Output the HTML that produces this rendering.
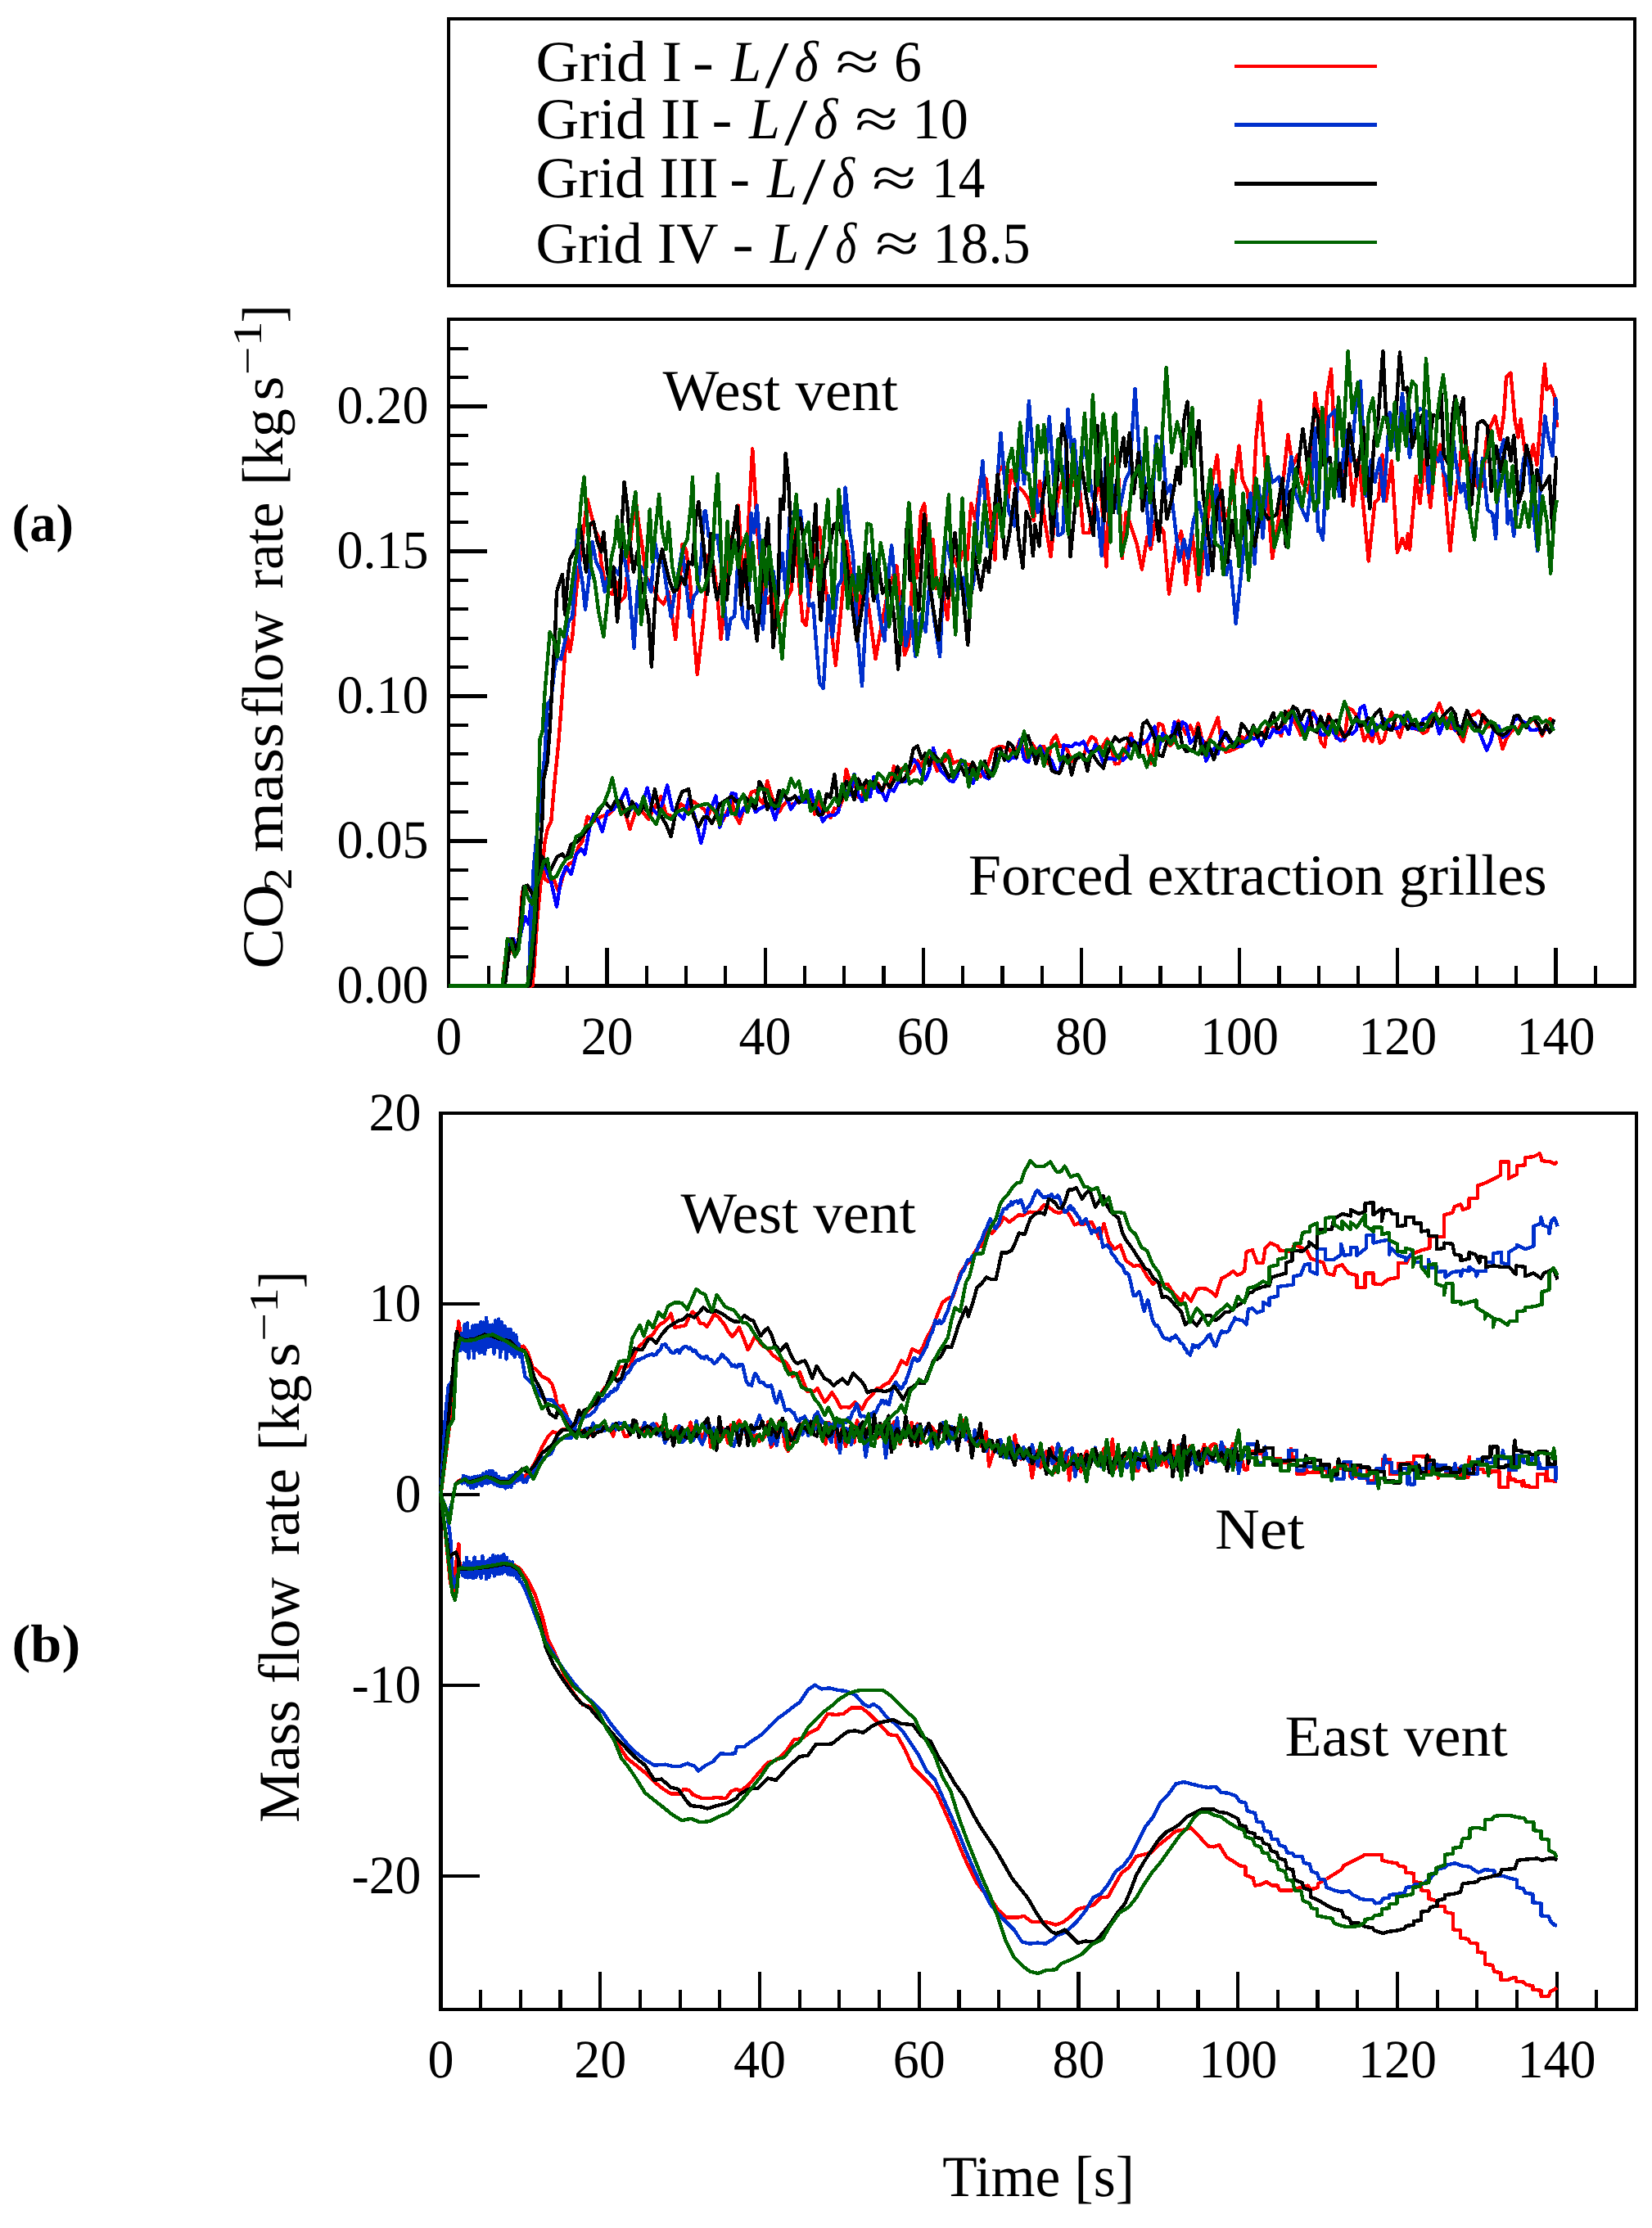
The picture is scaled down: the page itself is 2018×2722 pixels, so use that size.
<!DOCTYPE html>
<html lang="en"><head><meta charset="utf-8"><title>Mass flow rates</title>
<style>html,body{margin:0;padding:0;background:#fff}svg{display:block}</style></head>
<body>
<svg width="2018" height="2722" viewBox="0 0 2018 2722" font-family='"Liberation Serif", serif' fill="#000" shape-rendering="crispEdges" text-rendering="geometricPrecision">
<rect width="2018" height="2722" fill="#fff"/>
<path d="M546,21H1999V351H546Z M550,25V347H1995V25Z" fill="#000" fill-rule="evenodd"/>
<rect x="1508" y="79" width="174" height="4" fill="#ff0000"/>
<rect x="1508" y="150" width="174" height="5" fill="#0030cc"/>
<rect x="1508" y="222" width="174" height="5" fill="#000000"/>
<rect x="1508" y="294" width="174" height="4" fill="#006400"/>
<path d="M546,388H1999V1207H546Z M550,392V1202H1995V392Z" fill="#000" fill-rule="evenodd"/>
<line x1="596.6" y1="1204.4" x2="596.6" y2="1180.4" stroke="#000" stroke-width="4.2"/>
<line x1="644.9" y1="1204.4" x2="644.9" y2="1180.4" stroke="#000" stroke-width="4.2"/>
<line x1="693.2" y1="1204.4" x2="693.2" y2="1180.4" stroke="#000" stroke-width="4.2"/>
<line x1="741.5" y1="1204.4" x2="741.5" y2="1158.4" stroke="#000" stroke-width="4.2"/>
<line x1="789.8" y1="1204.4" x2="789.8" y2="1180.4" stroke="#000" stroke-width="4.2"/>
<line x1="838.0" y1="1204.4" x2="838.0" y2="1180.4" stroke="#000" stroke-width="4.2"/>
<line x1="886.3" y1="1204.4" x2="886.3" y2="1180.4" stroke="#000" stroke-width="4.2"/>
<line x1="934.6" y1="1204.4" x2="934.6" y2="1158.4" stroke="#000" stroke-width="4.2"/>
<line x1="982.9" y1="1204.4" x2="982.9" y2="1180.4" stroke="#000" stroke-width="4.2"/>
<line x1="1031.2" y1="1204.4" x2="1031.2" y2="1180.4" stroke="#000" stroke-width="4.2"/>
<line x1="1079.5" y1="1204.4" x2="1079.5" y2="1180.4" stroke="#000" stroke-width="4.2"/>
<line x1="1127.8" y1="1204.4" x2="1127.8" y2="1158.4" stroke="#000" stroke-width="4.2"/>
<line x1="1176.1" y1="1204.4" x2="1176.1" y2="1180.4" stroke="#000" stroke-width="4.2"/>
<line x1="1224.4" y1="1204.4" x2="1224.4" y2="1180.4" stroke="#000" stroke-width="4.2"/>
<line x1="1272.7" y1="1204.4" x2="1272.7" y2="1180.4" stroke="#000" stroke-width="4.2"/>
<line x1="1320.9" y1="1204.4" x2="1320.9" y2="1158.4" stroke="#000" stroke-width="4.2"/>
<line x1="1369.2" y1="1204.4" x2="1369.2" y2="1180.4" stroke="#000" stroke-width="4.2"/>
<line x1="1417.5" y1="1204.4" x2="1417.5" y2="1180.4" stroke="#000" stroke-width="4.2"/>
<line x1="1465.8" y1="1204.4" x2="1465.8" y2="1180.4" stroke="#000" stroke-width="4.2"/>
<line x1="1514.1" y1="1204.4" x2="1514.1" y2="1158.4" stroke="#000" stroke-width="4.2"/>
<line x1="1562.4" y1="1204.4" x2="1562.4" y2="1180.4" stroke="#000" stroke-width="4.2"/>
<line x1="1610.7" y1="1204.4" x2="1610.7" y2="1180.4" stroke="#000" stroke-width="4.2"/>
<line x1="1659.0" y1="1204.4" x2="1659.0" y2="1180.4" stroke="#000" stroke-width="4.2"/>
<line x1="1707.3" y1="1204.4" x2="1707.3" y2="1158.4" stroke="#000" stroke-width="4.2"/>
<line x1="1755.5" y1="1204.4" x2="1755.5" y2="1180.4" stroke="#000" stroke-width="4.2"/>
<line x1="1803.8" y1="1204.4" x2="1803.8" y2="1180.4" stroke="#000" stroke-width="4.2"/>
<line x1="1852.1" y1="1204.4" x2="1852.1" y2="1180.4" stroke="#000" stroke-width="4.2"/>
<line x1="1900.4" y1="1204.4" x2="1900.4" y2="1158.4" stroke="#000" stroke-width="4.2"/>
<line x1="1948.7" y1="1204.4" x2="1948.7" y2="1180.4" stroke="#000" stroke-width="4.2"/>
<line x1="548.3" y1="1169.0" x2="572.3" y2="1169.0" stroke="#000" stroke-width="4.2"/>
<line x1="548.3" y1="1133.6" x2="572.3" y2="1133.6" stroke="#000" stroke-width="4.2"/>
<line x1="548.3" y1="1098.2" x2="572.3" y2="1098.2" stroke="#000" stroke-width="4.2"/>
<line x1="548.3" y1="1062.8" x2="572.3" y2="1062.8" stroke="#000" stroke-width="4.2"/>
<line x1="548.3" y1="992.0" x2="572.3" y2="992.0" stroke="#000" stroke-width="4.2"/>
<line x1="548.3" y1="956.6" x2="572.3" y2="956.6" stroke="#000" stroke-width="4.2"/>
<line x1="548.3" y1="921.2" x2="572.3" y2="921.2" stroke="#000" stroke-width="4.2"/>
<line x1="548.3" y1="885.8" x2="572.3" y2="885.8" stroke="#000" stroke-width="4.2"/>
<line x1="548.3" y1="815.0" x2="572.3" y2="815.0" stroke="#000" stroke-width="4.2"/>
<line x1="548.3" y1="779.6" x2="572.3" y2="779.6" stroke="#000" stroke-width="4.2"/>
<line x1="548.3" y1="744.2" x2="572.3" y2="744.2" stroke="#000" stroke-width="4.2"/>
<line x1="548.3" y1="708.8" x2="572.3" y2="708.8" stroke="#000" stroke-width="4.2"/>
<line x1="548.3" y1="638.0" x2="572.3" y2="638.0" stroke="#000" stroke-width="4.2"/>
<line x1="548.3" y1="602.6" x2="572.3" y2="602.6" stroke="#000" stroke-width="4.2"/>
<line x1="548.3" y1="567.2" x2="572.3" y2="567.2" stroke="#000" stroke-width="4.2"/>
<line x1="548.3" y1="531.8" x2="572.3" y2="531.8" stroke="#000" stroke-width="4.2"/>
<line x1="548.3" y1="461.0" x2="572.3" y2="461.0" stroke="#000" stroke-width="4.2"/>
<line x1="548.3" y1="425.6" x2="572.3" y2="425.6" stroke="#000" stroke-width="4.2"/>
<line x1="548.3" y1="1027.4" x2="595.3" y2="1027.4" stroke="#000" stroke-width="4.2"/>
<line x1="548.3" y1="850.4" x2="595.3" y2="850.4" stroke="#000" stroke-width="4.2"/>
<line x1="548.3" y1="673.4" x2="595.3" y2="673.4" stroke="#000" stroke-width="4.2"/>
<line x1="548.3" y1="496.4" x2="595.3" y2="496.4" stroke="#000" stroke-width="4.2"/>
<g id="curvesA" fill="none" stroke-linejoin="round" stroke-linecap="butt" stroke-width="4.4">
<polyline points="548.3,1204.4 613.7,1204.3 616.8,1174.7 621.4,1147.3 627.5,1165.6 633.6,1147.3 638.1,1089.3 644.2,1086.2 650.4,1089.3 656.5,1074.0 661.0,1049.6 665.6,1074.0 670.2,1077.1 676.3,1074.0 682.4,1089.3 688.5,1067.9 694.6,1055.7 700.7,1052.7 706.8,1034.4 711.4,1028.3 717.5,997.7 725.1,1003.8 734.3,997.7 743.4,994.7 749.5,988.6 755.6,979.4 763.3,991.6 769.4,1013.0 777.0,988.6 784.6,991.6 792.2,1000.8 798.4,988.6 807.5,973.3 813.6,994.7 822.8,997.7 831.9,982.5 841.1,988.6 847.2,979.4 860.0,988.6 864.8,996.8 869.7,984.9 874.5,995.0 879.3,1007.8 884.1,1000.1 889.0,990.2 893.8,978.7 898.6,997.1 903.5,1005.7 908.3,988.1 913.1,982.1 917.9,967.7 922.8,966.3 927.6,976.4 932.4,982.0 937.3,954.3 942.1,971.0 946.9,983.0 951.7,992.0 956.6,983.7 961.4,979.6 966.2,983.0 971.1,981.8 975.9,977.8 980.7,971.8 985.5,979.1 990.4,971.0 995.2,994.6 1000.0,979.2 1004.9,994.4 1009.7,988.3 1014.5,999.1 1019.4,987.5 1024.2,988.9 1029.0,978.1 1033.8,939.9 1038.7,956.6 1043.5,953.7 1048.3,974.0 1053.2,971.6 1058.0,959.9 1062.8,961.7 1067.6,956.9 1072.5,956.8 1077.3,967.5 1082.1,955.2 1087.0,962.5 1091.8,936.3 1096.6,947.9 1101.4,939.4 1106.3,941.3 1111.1,945.1 1115.9,941.2 1120.8,929.5 1125.6,935.8 1130.4,923.9 1135.2,924.9 1140.1,930.1 1144.9,941.8 1149.7,930.6 1154.6,929.4 1159.4,916.9 1164.2,932.7 1169.0,930.3 1173.9,930.0 1178.7,932.5 1183.5,934.5 1188.4,934.3 1193.2,941.7 1198.0,948.7 1202.9,944.7 1207.7,931.9 1212.5,915.9 1217.3,913.7 1222.2,911.7 1227.0,913.3 1231.8,914.4 1236.7,919.9 1241.5,915.8 1246.3,903.1 1251.1,919.3 1256.0,930.8 1260.8,908.4 1265.6,916.4 1270.5,912.5 1275.3,912.0 1280.1,932.8 1284.9,904.8 1289.8,898.3 1294.6,911.7 1299.4,911.3 1304.3,917.2 1309.1,930.1 1313.9,927.4 1318.7,920.7 1323.6,923.7 1328.4,908.4 1333.2,900.1 1338.1,902.9 1342.9,919.5 1347.7,910.4 1352.6,902.6 1357.4,913.3 1362.2,933.4 1367.0,932.8 1371.9,920.2 1376.7,911.1 1381.5,896.0 1386.4,915.2 1391.2,912.7 1396.0,904.3 1400.8,908.3 1405.7,932.6 1410.5,909.8 1415.3,883.7 1420.2,885.9 1425.0,906.9 1429.8,911.1 1434.6,906.3 1439.5,880.6 1444.3,888.5 1449.1,897.3 1454.0,886.2 1458.8,898.3 1463.6,883.5 1468.4,903.4 1473.3,910.2 1478.1,900.7 1482.9,888.7 1487.8,876.7 1492.6,909.2 1497.4,918.7 1502.3,917.4 1507.1,915.3 1511.9,913.2 1516.7,900.3 1521.6,903.0 1526.4,893.8 1531.2,895.5 1536.1,899.6 1540.9,897.0 1545.7,892.6 1550.5,884.2 1555.4,889.8 1560.2,888.5 1565.0,899.1 1569.9,877.4 1574.7,868.8 1579.5,879.2 1584.3,887.4 1589.2,898.2 1594.0,891.0 1598.8,887.8 1603.7,869.3 1608.5,878.5 1613.3,906.2 1618.1,912.3 1623.0,873.0 1627.8,886.5 1632.6,902.0 1637.5,893.0 1642.3,904.7 1647.1,864.7 1651.9,867.7 1656.8,874.0 1661.6,883.4 1666.4,905.1 1671.3,896.9 1676.1,906.0 1680.9,890.8 1685.8,907.8 1690.6,904.3 1695.4,883.6 1700.2,870.3 1705.1,889.1 1709.9,900.5 1714.7,883.8 1719.6,876.0 1724.4,888.4 1729.2,890.9 1734.0,891.7 1738.9,895.9 1743.7,892.9 1748.5,874.7 1753.4,872.0 1758.2,859.0 1763.0,872.4 1767.8,879.2 1772.7,890.0 1777.5,887.5 1782.3,897.2 1787.2,905.9 1792.0,888.2 1796.8,873.9 1801.6,873.0 1806.5,868.5 1811.3,876.3 1816.1,888.5 1821.0,887.0 1825.8,889.4 1830.6,894.8 1835.5,914.9 1840.3,902.3 1845.1,894.7 1849.9,890.2 1854.8,891.7 1859.6,881.3 1864.4,883.7 1869.3,882.4 1874.1,878.1 1878.9,887.7 1883.7,899.0 1888.6,888.5 1893.4,878.1 1898.2,882.6" stroke="#ff0000"/>
<polyline points="548.3,1204.4 650.4,1204.3 652.5,1180.8 656.5,1119.8 661.0,1074.0 665.6,1028.3 668.7,1013.0 673.2,1003.8 677.8,952.0 682.4,906.2 687.0,845.2 690.0,799.4 693.1,778.0 696.1,796.3 699.2,778.0 703.8,723.1 708.3,686.5 712.9,646.8 717.5,610.2 722.1,628.5 726.6,646.8 731.2,656.0 734.3,686.5 738.8,710.9 743.4,723.1 748.0,726.1 752.6,710.9 757.2,735.3 763.3,729.2 767.8,683.4 772.4,640.7 777.0,613.2 780.0,637.7 784.6,668.2 789.2,704.8 793.8,710.9 798.4,720.0 804.5,732.2 810.6,738.4 816.7,723.1 821.2,753.6 825.2,781.1 828.9,738.4 833.4,665.1 838.0,671.2 842.6,704.8 847.2,771.9 851.8,823.8 856.3,784.1 860.0,753.6 865.7,677.4 872.0,693.1 876.0,724.6 880.7,781.3 886.2,724.6 892.5,661.6 897.2,645.9 901.9,617.6 908.2,716.7 913.0,661.6 919.2,548.3 927.1,677.4 931.8,716.7 937.3,737.2 942.9,724.6 949.2,765.5 957.0,740.3 966.5,721.4 971.2,645.9 975.9,708.9 980.6,759.2 984.6,763.9 991.6,701.0 1001.1,644.3 1007.4,708.9 1013.7,756.1 1020.8,812.7 1027.8,740.3 1034.1,661.6 1040.4,708.9 1048.3,756.1 1054.6,701.0 1060.9,740.3 1069.5,804.9 1078.2,756.1 1086.1,716.7 1095.5,691.5 1100.2,740.3 1105.0,800.1 1110.0,787.5 1116.6,670.9 1119.9,705.7 1124.9,626.0 1129.1,615.2 1133.2,659.2 1139.8,659.2 1144.0,719.0 1149.8,705.7 1157.3,757.2 1163.1,675.8 1169.7,692.4 1176.4,674.2 1181.4,684.1 1186.3,615.2 1191.3,634.3 1198.0,582.9 1204.6,584.5 1209.6,626.0 1215.4,684.1 1219.5,576.2 1226.2,567.9 1231.2,609.4 1235.3,574.6 1241.1,592.8 1249.4,599.5 1256.1,609.4 1262.7,636.0 1270.2,587.8 1276.0,634.3 1283.5,680.0 1289.3,626.0 1294.3,597.8 1302.6,576.2 1310.9,592.8 1317.5,579.5 1323.3,650.9 1330.8,650.9 1337.4,609.4 1344.1,589.5 1351.5,692.4 1356.5,567.9 1360.0,566.3 1364.9,552.8 1370.8,682.3 1375.7,625.9 1381.5,642.5 1389.0,665.7 1394.8,695.6 1401.5,655.8 1405.6,670.7 1411.4,635.8 1421.4,649.1 1428.0,725.5 1436.3,669.0 1443.0,649.1 1448.8,713.9 1456.3,652.4 1464.6,722.2 1472.9,652.4 1481.2,586.0 1487.0,556.1 1492.8,635.8 1499.4,627.5 1506.1,602.6 1513.5,544.5 1517.7,586.0 1523.5,599.3 1529.3,644.1 1534.3,536.2 1539.3,489.7 1544.3,552.8 1554.2,682.3 1564.2,619.2 1573.3,531.2 1579.1,569.4 1584.9,556.1 1590.7,589.4 1599.0,602.6 1606.5,479.8 1610.0,503.0 1613.0,503.8 1616.8,543.5 1621.4,479.4 1626.0,451.1 1630.5,537.4 1638.2,598.5 1647.3,552.7 1652.7,618.3 1659.5,560.3 1664.1,604.6 1671.8,685.5 1679.4,613.7 1684.0,609.2 1688.5,555.7 1693.1,612.2 1700.0,563.4 1706.9,674.8 1713.0,658.0 1717.6,670.2 1719.8,651.9 1722.1,671.8 1729.8,581.7 1734.4,615.3 1740.5,561.8 1747.3,619.8 1752.7,567.9 1758.8,543.5 1760.0,546.6 1763.7,583.1 1771.4,673.2 1779.0,598.4 1783.6,567.9 1786.6,522.1 1792.7,552.6 1798.8,575.5 1804.9,595.3 1811.0,593.8 1815.6,538.9 1820.2,522.1 1826.3,508.3 1832.4,537.3 1837.0,506.8 1840.0,461.0 1845.4,455.7 1850.7,514.5 1854.5,534.3 1857.6,512.2 1862.9,552.6 1869.0,564.8 1872.8,543.4 1877.4,567.9 1881.2,522.1 1884.3,473.2 1887.0,445.0 1889.6,476.3 1894.2,471.7 1898.8,483.9 1901.8,522.1" stroke="#ff0000"/>
<polyline points="548.3,1204.4 613.7,1204.3 618.3,1171.7 622.9,1147.3 627.5,1147.3 632.0,1162.5 636.6,1138.1 641.2,1119.8 645.8,1129.0 650.4,1089.3 658.0,1058.8 665.6,1058.8 673.2,1077.1 680.0,1107.6 685.4,1074.0 691.5,1058.8 697.7,1067.9 703.8,1043.5 709.9,1037.4 714.4,1043.5 720.5,1009.9 725.1,994.7 731.2,1003.8 735.8,1016.0 741.9,991.6 749.5,988.6 757.2,979.4 764.8,964.2 770.9,988.6 777.0,982.5 783.1,988.6 790.7,962.6 796.8,988.6 802.9,994.7 809.0,982.5 815.1,959.6 821.2,988.6 828.9,994.7 835.0,1000.8 841.1,976.4 848.7,997.7 856.3,1029.8 860.0,1016.0 864.8,987.5 869.7,984.7 874.5,972.5 879.3,1010.6 884.1,996.4 889.0,995.6 893.8,968.8 898.6,970.3 903.5,997.3 908.3,987.6 913.1,992.2 917.9,977.9 922.8,992.2 927.6,988.0 932.4,985.8 937.3,983.8 942.1,987.3 946.9,1001.4 951.7,983.6 956.6,970.5 961.4,975.9 966.2,988.4 971.1,981.4 975.9,974.6 980.7,979.4 985.5,979.9 990.4,965.3 995.2,985.0 1000.0,988.1 1004.9,1003.5 1009.7,997.9 1014.5,995.7 1019.4,996.0 1024.2,991.8 1029.0,962.9 1033.8,969.6 1038.7,970.6 1043.5,945.9 1048.3,971.4 1053.2,979.2 1058.0,966.0 1062.8,973.3 1067.6,948.9 1072.5,967.3 1077.3,967.8 1082.1,977.9 1087.0,963.2 1091.8,966.7 1096.6,957.0 1101.4,954.6 1106.3,954.6 1111.1,937.0 1115.9,927.9 1120.8,933.3 1125.6,945.6 1130.4,952.6 1135.2,941.5 1140.1,914.1 1144.9,931.2 1149.7,942.1 1154.6,946.7 1159.4,953.3 1164.2,955.2 1169.0,948.4 1173.9,928.5 1178.7,934.8 1183.5,943.0 1188.4,956.9 1193.2,943.4 1198.0,939.1 1202.9,949.1 1207.7,951.4 1212.5,940.9 1217.3,924.6 1222.2,921.0 1227.0,923.4 1231.8,929.6 1236.7,925.3 1241.5,926.4 1246.3,903.7 1251.1,927.9 1256.0,931.3 1260.8,915.9 1265.6,925.1 1270.5,911.7 1275.3,921.2 1280.1,923.6 1284.9,929.9 1289.8,942.5 1294.6,943.5 1299.4,910.4 1304.3,911.4 1309.1,911.9 1313.9,908.1 1318.7,910.0 1323.6,905.7 1328.4,916.8 1333.2,921.0 1338.1,909.9 1342.9,918.4 1347.7,932.0 1352.6,926.3 1357.4,926.6 1362.2,928.4 1367.0,922.3 1371.9,929.0 1376.7,924.1 1381.5,901.8 1386.4,907.8 1391.2,907.7 1396.0,908.7 1400.8,905.6 1405.7,897.0 1410.5,887.7 1415.3,915.0 1420.2,896.2 1425.0,902.0 1429.8,907.9 1434.6,882.2 1439.5,897.4 1444.3,882.2 1449.1,885.6 1454.0,907.9 1458.8,902.2 1463.6,897.0 1468.4,903.6 1473.3,929.6 1478.1,920.6 1482.9,914.5 1487.8,920.8 1492.6,892.7 1497.4,901.2 1502.3,906.2 1507.1,907.0 1511.9,912.1 1516.7,911.9 1521.6,904.4 1526.4,898.7 1531.2,902.9 1536.1,900.8 1540.9,910.9 1545.7,898.1 1550.5,900.9 1555.4,891.1 1560.2,895.1 1565.0,894.6 1569.9,887.7 1574.7,897.0 1579.5,868.4 1584.3,878.6 1589.2,883.9 1594.0,892.6 1598.8,876.2 1603.7,871.1 1608.5,878.9 1613.3,897.4 1618.1,897.5 1623.0,887.5 1627.8,892.9 1632.6,901.1 1637.5,904.7 1642.3,902.5 1647.1,894.5 1651.9,896.8 1656.8,892.0 1661.6,865.2 1666.4,862.2 1671.3,885.7 1676.1,898.2 1680.9,885.5 1685.8,887.7 1690.6,878.0 1695.4,885.5 1700.2,888.6 1705.1,890.2 1709.9,888.2 1714.7,874.7 1719.6,872.6 1724.4,890.0 1729.2,889.4 1734.0,891.9 1738.9,878.3 1743.7,877.0 1748.5,870.7 1753.4,876.9 1758.2,896.4 1763.0,884.5 1767.8,881.4 1772.7,877.8 1777.5,892.5 1782.3,887.1 1787.2,891.7 1792.0,879.9 1796.8,886.1 1801.6,882.8 1806.5,892.7 1811.3,904.6 1816.1,916.8 1821.0,905.6 1825.8,886.2 1830.6,887.3 1835.5,900.6 1840.3,898.7 1845.1,890.6 1849.9,879.6 1854.8,877.5 1859.6,881.0 1864.4,883.5 1869.3,891.7 1874.1,891.9 1878.9,891.2 1883.7,893.6 1888.6,890.1 1893.4,891.2 1898.2,887.7" stroke="#0000ff"/>
<polyline points="548.3,1204.4 645.8,1204.3 648.8,1119.8 651.9,1058.8 656.5,1013.0 661.0,967.2 665.6,921.4 668.7,860.4 673.2,854.3 677.8,814.6 680.9,802.4 685.4,805.5 690.0,784.1 694.6,759.7 699.2,753.6 702.2,710.9 705.3,646.8 708.3,692.6 711.4,710.9 715.0,744.5 719.0,710.9 723.6,662.1 728.2,686.5 734.3,698.7 738.8,723.1 743.4,701.7 749.5,692.6 755.6,701.7 761.7,674.3 767.8,710.9 771.5,753.6 774.5,791.8 778.5,723.1 783.1,692.6 789.2,704.8 795.3,723.1 799.9,662.1 804.5,686.5 809.0,680.4 815.1,723.1 819.7,753.6 824.3,723.1 828.9,698.7 833.4,671.2 838.0,710.9 842.6,753.6 847.2,729.2 851.8,723.1 856.3,686.5 860.0,625.4 861.8,623.9 865.7,655.3 870.5,658.5 876.0,653.8 881.5,693.1 888.6,781.3 892.5,756.1 897.2,752.9 901.9,677.4 907.4,756.1 913.0,767.1 917.7,627.0 920.8,650.6 924.8,617.6 927.9,661.6 931.8,768.7 938.1,693.1 944.4,697.8 949.2,724.6 955.4,675.8 960.2,724.6 964.9,627.0 977.5,623.9 982.2,661.6 988.5,740.3 993.2,737.2 997.2,787.5 1001.1,834.8 1005.8,841.1 1009.0,787.5 1012.1,727.7 1016.8,778.1 1023.1,716.7 1027.8,708.9 1032.6,595.5 1037.3,645.9 1042.0,677.4 1048.3,787.5 1053.0,837.9 1057.7,756.1 1061.7,677.4 1070.3,716.7 1075.1,756.1 1080.6,782.8 1086.1,693.1 1089.2,666.4 1093.2,708.9 1098.7,756.1 1102.6,727.7 1106.5,789.1 1110.0,771.8 1111.6,742.3 1118.3,802.0 1124.9,750.6 1130.7,772.1 1135.7,709.0 1141.5,758.9 1148.1,802.0 1154.8,659.2 1161.4,684.1 1169.7,722.3 1176.4,705.7 1183.0,742.3 1189.7,709.0 1194.6,626.0 1200.4,562.9 1206.3,667.5 1212.9,659.2 1217.9,592.8 1222.5,528.9 1227.8,592.8 1232.8,626.0 1239.5,642.6 1246.1,548.0 1251.1,591.2 1256.9,489.9 1262.7,566.3 1267.7,626.0 1274.3,606.1 1281.8,509.0 1287.6,592.8 1292.6,654.3 1298.4,650.9 1304.5,499.8 1309.2,553.0 1312.5,537.2 1317.5,609.4 1322.5,546.3 1327.5,559.6 1334.1,604.4 1340.7,626.0 1345.7,679.2 1350.7,559.6 1355.7,642.6 1360.0,592.8 1366.6,627.5 1374.9,586.0 1379.9,576.1 1386.5,474.8 1391.5,552.8 1398.1,586.0 1404.8,665.7 1412.3,532.9 1419.7,536.2 1424.7,602.6 1429.7,592.7 1434.7,635.8 1440.5,685.6 1446.3,659.1 1451.3,682.3 1457.9,635.8 1464.6,614.3 1469.5,635.8 1475.4,702.3 1481.2,635.8 1486.1,592.7 1491.1,652.4 1497.8,702.3 1502.7,685.6 1509.7,762.0 1516.0,702.3 1522.7,635.8 1527.7,602.6 1532.6,689.0 1537.6,594.3 1542.6,657.4 1549.2,566.1 1554.2,589.4 1562.5,582.7 1569.2,619.2 1577.5,557.8 1582.4,602.6 1589.1,619.2 1596.6,635.8 1602.4,586.0 1606.5,522.9 1610.0,649.1 1610.7,644.3 1616.0,659.5 1622.9,509.9 1631.3,500.8 1635.9,606.1 1644.3,526.7 1650.4,563.4 1656.5,491.6 1661.8,465.6 1665.6,537.4 1668.7,606.1 1674.8,561.8 1679.4,589.3 1685.5,560.3 1690.1,612.2 1697.7,503.8 1706.9,552.7 1713.0,480.9 1722.1,558.8 1728.2,506.9 1734.4,499.2 1742.0,502.3 1745.0,601.5 1750.4,552.7 1757.3,563.4 1760.0,552.7 1763.0,575.5 1766.8,583.1 1771.4,610.6 1775.2,537.3 1779.0,567.9 1784.3,601.4 1788.2,590.8 1792.7,621.3 1797.3,572.4 1801.1,552.6 1806.5,598.4 1811.0,560.2 1817.1,622.8 1823.2,627.4 1827.1,657.9 1832.4,552.6 1837.0,537.3 1841.6,639.6 1845.4,624.3 1849.2,654.8 1855.3,606.0 1861.4,560.2 1866.0,552.6 1872.1,616.7 1878.2,673.2 1882.8,567.9 1887.3,508.3 1891.9,537.3 1896.5,557.2 1900.3,487.0 1901.8,512.9" stroke="#0030cc"/>
<polyline points="548.3,1204.4 616.8,1204.3 621.4,1165.6 625.9,1147.3 630.5,1165.6 635.1,1138.1 639.7,1083.2 644.2,1081.7 648.8,1089.3 653.4,1098.4 658.0,1071.0 662.6,1046.6 667.1,1055.7 671.7,1064.9 676.3,1055.7 680.9,1046.6 687.0,1043.5 691.5,1049.6 697.7,1031.3 705.3,1028.3 712.9,1019.1 722.1,1006.9 731.2,991.6 738.8,979.4 746.5,988.6 751.1,979.4 758.7,979.4 766.3,997.7 772.4,979.4 780.0,994.7 786.1,985.5 793.8,994.7 799.9,964.2 806.0,994.7 813.6,1006.9 819.7,1022.1 827.3,982.5 833.4,967.2 841.1,964.2 847.2,997.7 853.3,1009.9 860.0,997.7 864.8,998.8 869.7,1005.9 874.5,995.8 879.3,982.6 884.1,979.3 889.0,975.8 893.8,972.9 898.6,978.9 903.5,977.8 908.3,971.6 913.1,977.0 917.9,982.8 922.8,988.0 927.6,954.8 932.4,963.3 937.3,989.0 942.1,976.4 946.9,987.8 951.7,966.0 956.6,967.9 961.4,976.5 966.2,976.4 971.1,972.5 975.9,980.8 980.7,977.4 985.5,972.4 990.4,983.5 995.2,983.6 1000.0,995.8 1004.9,994.7 1009.7,969.8 1014.5,974.5 1019.4,946.1 1024.2,984.3 1029.0,973.4 1033.8,954.7 1038.7,960.9 1043.5,976.9 1048.3,951.6 1053.2,962.3 1058.0,953.6 1062.8,959.2 1067.6,955.0 1072.5,958.8 1077.3,965.7 1082.1,954.6 1087.0,962.2 1091.8,954.2 1096.6,936.5 1101.4,955.0 1106.3,949.5 1111.1,936.8 1115.9,914.5 1120.8,911.6 1125.6,926.6 1130.4,920.5 1135.2,935.2 1140.1,921.1 1144.9,927.0 1149.7,931.0 1154.6,940.1 1159.4,949.6 1164.2,941.9 1169.0,942.6 1173.9,936.9 1178.7,947.0 1183.5,942.7 1188.4,931.4 1193.2,941.8 1198.0,939.1 1202.9,929.8 1207.7,949.6 1212.5,945.2 1217.3,915.7 1222.2,914.6 1227.0,928.4 1231.8,907.1 1236.7,911.0 1241.5,925.5 1246.3,911.2 1251.1,900.2 1256.0,899.1 1260.8,914.2 1265.6,933.1 1270.5,916.9 1275.3,927.1 1280.1,923.0 1284.9,941.3 1289.8,944.2 1294.6,944.4 1299.4,930.8 1304.3,922.5 1309.1,946.7 1313.9,928.0 1318.7,924.9 1323.6,922.3 1328.4,941.7 1333.2,917.9 1338.1,926.7 1342.9,933.6 1347.7,938.6 1352.6,921.0 1357.4,909.5 1362.2,900.5 1367.0,905.9 1371.9,902.8 1376.7,901.6 1381.5,910.7 1386.4,906.6 1391.2,922.1 1396.0,884.7 1400.8,880.6 1405.7,889.4 1410.5,902.1 1415.3,922.4 1420.2,923.8 1425.0,907.4 1429.8,899.3 1434.6,897.6 1439.5,884.2 1444.3,910.5 1449.1,918.2 1454.0,916.1 1458.8,915.2 1463.6,889.1 1468.4,920.8 1473.3,907.9 1478.1,914.4 1482.9,927.9 1487.8,911.5 1492.6,904.0 1497.4,895.1 1502.3,902.8 1507.1,913.2 1511.9,908.1 1516.7,884.4 1521.6,889.9 1526.4,898.4 1531.2,886.6 1536.1,900.5 1540.9,894.9 1545.7,902.3 1550.5,882.1 1555.4,871.1 1560.2,890.3 1565.0,887.2 1569.9,869.2 1574.7,877.1 1579.5,863.4 1584.3,866.1 1589.2,879.4 1594.0,868.7 1598.8,867.7 1603.7,892.0 1608.5,894.5 1613.3,875.3 1618.1,889.8 1623.0,875.2 1627.8,882.9 1632.6,880.2 1637.5,891.0 1642.3,900.4 1647.1,896.9 1651.9,885.6 1656.8,876.0 1661.6,886.8 1666.4,885.5 1671.3,877.3 1676.1,878.7 1680.9,871.2 1685.8,866.7 1690.6,886.4 1695.4,890.9 1700.2,892.2 1705.1,874.8 1709.9,875.0 1714.7,879.3 1719.6,890.6 1724.4,882.7 1729.2,887.0 1734.0,884.7 1738.9,884.5 1743.7,887.8 1748.5,886.9 1753.4,874.5 1758.2,881.4 1763.0,874.5 1767.8,869.3 1772.7,864.8 1777.5,872.1 1782.3,896.6 1787.2,884.8 1792.0,868.1 1796.8,878.7 1801.6,885.5 1806.5,893.0 1811.3,873.5 1816.1,879.6 1821.0,884.7 1825.8,892.4 1830.6,896.5 1835.5,898.4 1840.3,895.4 1845.1,890.3 1849.9,875.1 1854.8,873.9 1859.6,882.7 1864.4,889.1 1869.3,878.2 1874.1,878.7 1878.9,884.4 1883.7,896.5 1888.6,886.1 1893.4,894.5 1898.2,878.7" stroke="#000000"/>
<polyline points="548.3,1204.4 647.3,1204.3 650.4,1180.8 654.9,1119.8 659.5,1043.5 662.6,997.7 664.1,952.0 668.7,930.6 671.7,890.9 674.8,829.9 677.8,784.1 680.0,723.1 683.9,710.9 687.0,701.7 690.0,750.6 693.1,710.9 696.1,683.4 700.7,674.3 705.3,668.2 708.3,640.7 711.4,662.1 716.0,698.7 720.5,640.7 725.1,637.7 729.7,662.1 734.3,674.3 737.3,649.9 741.9,698.7 746.5,717.0 749.5,692.6 754.1,759.7 757.2,723.1 760.2,631.5 762.6,588.8 766.3,619.3 769.4,662.1 773.9,698.7 778.5,674.3 783.1,710.9 787.7,729.2 792.2,753.6 795.9,814.6 799.9,738.4 804.5,692.6 809.0,671.2 813.6,692.6 818.2,710.9 822.8,723.1 827.3,720.0 831.9,704.8 836.5,713.9 841.1,686.5 845.7,689.5 850.2,631.5 853.3,613.2 856.3,640.7 860.0,671.2 864.2,726.2 868.1,652.2 872.0,708.9 876.0,732.5 881.5,708.9 887.8,732.5 894.1,661.6 900.4,618.4 905.1,738.8 909.8,683.7 914.5,743.5 919.2,740.3 924.8,782.8 931.8,693.1 938.1,633.3 944.4,790.7 950.7,724.6 953.1,609.7 957.0,622.3 959.7,553.8 963.3,589.2 966.5,661.6 968.0,710.4 972.0,655.3 977.5,633.3 983.8,674.2 990.1,708.9 996.4,616.0 999.5,708.9 1002.7,757.6 1007.4,693.1 1012.1,677.4 1018.4,641.2 1023.1,638.0 1031.0,661.6 1038.9,724.6 1046.7,782.8 1054.6,732.5 1060.9,677.4 1067.2,734.0 1071.9,683.7 1078.2,724.6 1086.1,708.9 1092.4,756.1 1097.1,817.5 1101.8,756.1 1108.1,638.0 1110.0,636.5 1111.6,709.0 1116.6,707.4 1122.4,745.6 1129.1,628.5 1134.9,709.0 1139.8,742.3 1146.5,782.1 1153.1,702.4 1158.1,730.6 1166.4,650.9 1171.4,692.4 1176.4,725.6 1182.2,787.9 1189.7,675.8 1198.0,720.7 1203.8,682.5 1207.9,699.1 1214.6,626.0 1218.7,579.5 1222.9,626.0 1227.8,682.5 1232.8,654.3 1240.3,597.0 1244.4,659.2 1249.4,694.1 1253.6,625.2 1257.7,634.3 1261.9,679.2 1264.4,641.0 1269.4,667.5 1274.3,602.8 1280.1,576.2 1285.1,659.2 1290.9,592.8 1297.6,518.1 1302.6,543.0 1307.5,680.0 1314.2,609.4 1320.8,566.3 1327.5,609.4 1335.8,654.3 1340.7,519.8 1345.7,596.1 1349.0,636.0 1351.5,559.6 1360.0,626.0 1366.6,569.4 1372.4,534.6 1374.9,569.4 1379.9,528.7 1384.9,602.6 1390.7,552.8 1395.7,624.2 1399.8,594.3 1406.5,586.0 1415.6,660.7 1421.4,589.4 1425.5,634.2 1433.0,602.6 1438.0,571.1 1441.3,591.0 1446.3,513.0 1450.4,490.6 1456.3,569.4 1464.6,513.8 1469.5,602.6 1477.8,669.0 1481.2,697.3 1487.0,612.6 1492.8,599.3 1499.4,687.3 1505.2,635.8 1511.0,669.0 1517.7,652.4 1524.3,624.2 1532.6,667.4 1540.9,619.2 1549.2,634.2 1559.2,629.2 1566.7,584.4 1570.8,667.4 1575.8,601.0 1582.4,594.3 1591.6,523.8 1597.4,569.4 1605.7,499.7 1610.0,511.3 1610.7,529.8 1616.8,567.9 1624.4,558.8 1630.5,598.5 1636.6,566.4 1641.2,612.2 1648.1,517.6 1657.3,581.7 1665.6,522.1 1673.3,621.4 1678.6,537.4 1683.2,516.0 1689.3,429.0 1693.1,506.9 1697.7,537.4 1705.3,506.9 1709.9,430.5 1714.5,476.3 1719.1,473.3 1725.2,546.6 1731.3,522.1 1737.4,506.9 1743.5,567.9 1750.4,506.9 1757.3,509.9 1760.0,473.3 1763.7,555.7 1769.8,567.9 1774.4,506.8 1777.5,483.9 1782.8,506.8 1787.4,486.2 1791.2,552.6 1797.3,616.7 1800.4,583.1 1804.9,517.5 1811.0,513.7 1817.1,520.6 1821.7,599.9 1827.8,545.0 1833.2,575.5 1837.7,552.6 1841.6,535.1 1845.4,563.3 1849.2,532.0 1855.3,613.6 1859.9,598.4 1864.5,544.2 1870.6,567.9 1874.4,613.6 1877.4,574.0 1882.8,598.4 1888.1,590.8 1892.7,581.6 1896.5,647.2 1901.1,558.7 1901.8,558.7" stroke="#000000"/>
<polyline points="548.3,1204.4 613.7,1204.3 616.8,1177.8 619.8,1147.3 624.4,1150.3 629.0,1168.6 633.6,1159.5 638.1,1119.8 641.2,1083.2 645.8,1098.4 650.4,1104.5 654.9,1083.2 659.5,1071.0 664.1,1052.7 668.7,1049.6 673.2,1074.0 679.3,1071.0 685.4,1058.8 691.5,1049.6 697.7,1046.6 703.8,1022.1 709.9,1019.1 716.0,1009.9 722.1,1006.9 731.2,988.6 737.3,982.5 743.4,967.2 748.0,950.4 752.6,973.3 758.7,994.7 766.3,988.6 773.9,985.5 780.0,994.7 786.1,973.3 792.2,994.7 801.4,1006.9 807.5,988.6 813.6,997.7 819.7,1000.8 827.3,991.6 835.0,988.6 841.1,994.7 850.2,985.5 860.0,982.5 864.8,982.2 869.7,987.5 874.5,991.5 879.3,1007.7 884.1,980.7 889.0,978.1 893.8,993.8 898.6,994.7 903.5,978.1 908.3,970.6 913.1,992.0 917.9,975.2 922.8,981.1 927.6,963.3 932.4,964.4 937.3,964.9 942.1,982.6 946.9,984.9 951.7,984.5 956.6,965.4 961.4,968.7 966.2,951.1 971.1,961.4 975.9,954.5 980.7,978.3 985.5,966.0 990.4,990.7 995.2,987.0 1000.0,967.4 1004.9,984.6 1009.7,990.0 1014.5,983.4 1019.4,975.0 1024.2,982.3 1029.0,958.0 1033.8,976.9 1038.7,956.1 1043.5,946.6 1048.3,964.0 1053.2,962.1 1058.0,977.0 1062.8,954.4 1067.6,962.6 1072.5,944.6 1077.3,948.5 1082.1,955.2 1087.0,945.0 1091.8,945.9 1096.6,953.1 1101.4,942.6 1106.3,934.1 1111.1,957.7 1115.9,953.3 1120.8,953.5 1125.6,957.4 1130.4,928.0 1135.2,917.2 1140.1,925.0 1144.9,930.5 1149.7,929.5 1154.6,921.3 1159.4,926.6 1164.2,950.1 1169.0,940.0 1173.9,929.1 1178.7,930.2 1183.5,961.4 1188.4,939.8 1193.2,952.0 1198.0,930.3 1202.9,935.7 1207.7,941.7 1212.5,947.9 1217.3,937.9 1222.2,919.5 1227.0,923.0 1231.8,927.1 1236.7,919.5 1241.5,921.3 1246.3,911.7 1251.1,893.6 1256.0,925.0 1260.8,913.1 1265.6,920.8 1270.5,914.3 1275.3,936.3 1280.1,914.8 1284.9,912.8 1289.8,908.5 1294.6,928.8 1299.4,924.5 1304.3,932.3 1309.1,926.0 1313.9,923.1 1318.7,920.2 1323.6,927.7 1328.4,928.8 1333.2,920.3 1338.1,917.6 1342.9,912.4 1347.7,923.4 1352.6,906.2 1357.4,908.9 1362.2,920.9 1367.0,926.3 1371.9,914.7 1376.7,920.2 1381.5,926.9 1386.4,910.5 1391.2,924.8 1396.0,922.8 1400.8,937.4 1405.7,922.7 1410.5,935.1 1415.3,900.0 1420.2,905.0 1425.0,899.1 1429.8,909.2 1434.6,900.5 1439.5,914.1 1444.3,911.3 1449.1,911.5 1454.0,916.6 1458.8,918.6 1463.6,921.6 1468.4,912.3 1473.3,922.9 1478.1,903.7 1482.9,907.7 1487.8,913.7 1492.6,915.1 1497.4,916.2 1502.3,911.5 1507.1,912.4 1511.9,901.9 1516.7,905.9 1521.6,906.8 1526.4,904.4 1531.2,888.4 1536.1,894.7 1540.9,885.6 1545.7,881.0 1550.5,887.2 1555.4,881.7 1560.2,879.1 1565.0,871.0 1569.9,882.3 1574.7,871.5 1579.5,868.9 1584.3,880.1 1589.2,889.4 1594.0,903.3 1598.8,888.9 1603.7,892.2 1608.5,891.9 1613.3,884.4 1618.1,891.7 1623.0,897.9 1627.8,881.0 1632.6,896.0 1637.5,875.1 1642.3,856.9 1647.1,870.0 1651.9,884.3 1656.8,879.2 1661.6,881.9 1666.4,882.5 1671.3,894.2 1676.1,877.1 1680.9,892.5 1685.8,886.3 1690.6,890.9 1695.4,879.7 1700.2,879.2 1705.1,873.9 1709.9,875.2 1714.7,884.3 1719.6,869.8 1724.4,881.0 1729.2,878.8 1734.0,891.8 1738.9,891.6 1743.7,883.4 1748.5,874.5 1753.4,871.6 1758.2,884.2 1763.0,877.3 1767.8,889.9 1772.7,871.6 1777.5,889.2 1782.3,891.0 1787.2,899.4 1792.0,879.8 1796.8,887.5 1801.6,893.0 1806.5,892.3 1811.3,895.6 1816.1,886.2 1821.0,881.6 1825.8,883.8 1830.6,892.9 1835.5,892.5 1840.3,889.7 1845.1,888.4 1849.9,887.7 1854.8,896.3 1859.6,886.4 1864.4,886.9 1869.3,880.7 1874.1,876.5 1878.9,876.5 1883.7,882.9 1888.6,880.4 1893.4,883.6 1898.2,893.0" stroke="#006400"/>
<polyline points="548.3,1204.4 644.2,1204.3 647.3,1180.8 651.9,1135.1 654.9,1089.3 656.5,997.7 658.0,967.2 659.5,903.1 662.6,894.0 665.6,845.2 668.7,808.5 671.7,771.9 676.3,781.1 680.9,802.4 683.9,768.9 688.5,778.0 691.5,759.7 696.1,735.3 700.7,698.7 705.3,671.2 709.9,610.2 713.5,582.7 717.5,640.7 722.1,692.6 726.6,710.9 731.2,747.5 737.3,778.0 741.9,735.3 746.5,683.4 751.1,662.1 754.1,631.5 757.2,668.2 760.2,640.7 764.8,680.4 769.4,656.0 773.9,616.3 776.4,601.0 780.0,668.2 783.1,762.8 787.7,723.1 790.7,668.2 793.8,622.4 796.8,686.5 801.4,640.7 805.1,604.1 809.0,649.9 813.6,671.2 816.7,637.7 821.2,692.6 825.8,717.0 830.4,692.6 835.0,668.2 839.5,659.0 844.1,616.3 846.0,582.7 848.7,662.1 851.8,710.9 856.3,723.1 860.0,720.0 865.7,702.6 870.5,677.4 873.6,614.4 876.8,579.0 879.9,645.9 883.1,752.9 888.6,637.2 891.7,701.0 897.2,660.1 901.9,693.1 905.1,672.7 912.2,652.2 916.1,708.9 919.2,663.2 925.5,748.2 931.8,660.1 935.8,716.7 939.7,667.9 944.4,708.9 949.2,738.8 955.4,804.9 960.2,740.3 966.5,661.6 972.8,604.2 978.3,724.6 982.2,653.8 987.7,638.0 991.6,693.1 997.2,682.1 1001.1,719.9 1007.4,645.9 1011.3,610.5 1017.6,743.5 1024.7,597.9 1029.4,653.8 1035.7,743.5 1041.2,702.6 1046.7,734.0 1049.1,693.1 1053.0,724.6 1059.3,639.6 1064.0,641.2 1070.3,724.6 1075.8,663.2 1081.4,693.1 1086.1,765.5 1093.2,702.6 1100.2,786.0 1105.0,708.9 1110.0,614.4 1110.8,615.2 1116.6,709.0 1119.9,800.4 1126.6,758.9 1129.9,709.0 1134.9,640.1 1139.8,719.0 1144.0,705.7 1148.1,729.0 1153.1,674.2 1158.9,604.4 1163.1,709.0 1167.2,775.5 1171.4,692.4 1175.5,608.6 1179.7,692.4 1184.7,753.9 1190.5,639.3 1196.3,687.5 1202.9,612.7 1209.6,669.2 1216.2,619.4 1219.5,616.1 1224.5,655.9 1231.2,566.3 1236.1,548.0 1241.1,587.8 1246.1,516.5 1251.1,576.2 1256.9,579.5 1261.9,631.0 1267.7,519.8 1271.8,553.0 1275.2,518.9 1280.1,587.8 1286.0,627.7 1292.6,536.4 1299.2,592.8 1305.0,652.6 1310.9,543.0 1315.8,617.7 1325.0,504.8 1330.0,599.5 1334.9,482.4 1340.7,592.8 1347.4,505.7 1352.4,543.0 1356.5,662.6 1360.0,509.8 1362.5,505.5 1369.9,679.0 1376.6,652.4 1383.2,586.0 1391.5,569.4 1394.8,607.6 1399.8,522.9 1404.8,614.3 1413.1,542.9 1416.4,586.0 1424.7,449.1 1431.4,552.8 1438.0,515.5 1443.0,536.2 1448.0,569.4 1456.3,498.0 1464.6,702.3 1471.2,635.8 1478.7,573.6 1484.5,664.1 1491.1,669.0 1494.4,702.3 1499.4,652.4 1505.2,574.4 1513.5,692.3 1518.5,602.6 1525.2,708.9 1534.3,584.4 1540.9,634.2 1548.4,557.8 1556.7,669.0 1565.8,635.8 1573.3,669.0 1582.4,572.7 1590.7,619.2 1599.0,561.1 1605.7,624.2 1610.0,610.9 1610.7,613.7 1615.3,497.7 1621.4,621.4 1626.0,567.9 1629.8,607.6 1635.1,485.5 1640.5,545.0 1646.6,429.0 1651.9,503.8 1658.8,467.2 1664.1,552.7 1667.2,603.1 1671.8,506.9 1677.1,486.3 1682.4,545.0 1690.1,509.9 1694.7,511.5 1699.2,549.6 1703.8,491.6 1707.6,561.8 1712.2,505.3 1717.6,545.0 1720.6,491.6 1724.9,465.6 1729.8,471.8 1735.1,589.3 1742.0,438.2 1746.6,506.9 1750.4,590.8 1755.7,506.9 1760.0,476.3 1763.0,458.0 1766.8,491.6 1771.4,604.5 1775.9,522.1 1779.0,488.5 1782.8,522.1 1786.6,560.2 1790.4,545.0 1795.8,628.9 1801.1,659.4 1805.7,613.6 1811.0,564.8 1815.6,558.7 1822.5,526.7 1827.8,613.6 1833.2,590.8 1839.3,563.3 1843.1,606.0 1847.7,569.4 1852.2,644.2 1856.8,644.2 1862.2,613.6 1867.5,644.2 1873.6,581.6 1878.9,671.6 1884.3,606.0 1889.6,636.5 1894.2,700.6 1898.8,628.9 1901.8,610.6" stroke="#006400"/>
</g>
<path d="M536,1358H2001V2457H536Z M541,1362V2453H1997V1362Z" fill="#000" fill-rule="evenodd"/>
<line x1="587.2" y1="2455.0" x2="587.2" y2="2431.0" stroke="#000" stroke-width="4.2"/>
<line x1="635.9" y1="2455.0" x2="635.9" y2="2431.0" stroke="#000" stroke-width="4.2"/>
<line x1="684.5" y1="2455.0" x2="684.5" y2="2431.0" stroke="#000" stroke-width="4.2"/>
<line x1="733.2" y1="2455.0" x2="733.2" y2="2409.0" stroke="#000" stroke-width="4.2"/>
<line x1="781.9" y1="2455.0" x2="781.9" y2="2431.0" stroke="#000" stroke-width="4.2"/>
<line x1="830.6" y1="2455.0" x2="830.6" y2="2431.0" stroke="#000" stroke-width="4.2"/>
<line x1="879.3" y1="2455.0" x2="879.3" y2="2431.0" stroke="#000" stroke-width="4.2"/>
<line x1="928.0" y1="2455.0" x2="928.0" y2="2409.0" stroke="#000" stroke-width="4.2"/>
<line x1="976.6" y1="2455.0" x2="976.6" y2="2431.0" stroke="#000" stroke-width="4.2"/>
<line x1="1025.3" y1="2455.0" x2="1025.3" y2="2431.0" stroke="#000" stroke-width="4.2"/>
<line x1="1074.0" y1="2455.0" x2="1074.0" y2="2431.0" stroke="#000" stroke-width="4.2"/>
<line x1="1122.7" y1="2455.0" x2="1122.7" y2="2409.0" stroke="#000" stroke-width="4.2"/>
<line x1="1171.4" y1="2455.0" x2="1171.4" y2="2431.0" stroke="#000" stroke-width="4.2"/>
<line x1="1220.1" y1="2455.0" x2="1220.1" y2="2431.0" stroke="#000" stroke-width="4.2"/>
<line x1="1268.8" y1="2455.0" x2="1268.8" y2="2431.0" stroke="#000" stroke-width="4.2"/>
<line x1="1317.4" y1="2455.0" x2="1317.4" y2="2409.0" stroke="#000" stroke-width="4.2"/>
<line x1="1366.1" y1="2455.0" x2="1366.1" y2="2431.0" stroke="#000" stroke-width="4.2"/>
<line x1="1414.8" y1="2455.0" x2="1414.8" y2="2431.0" stroke="#000" stroke-width="4.2"/>
<line x1="1463.5" y1="2455.0" x2="1463.5" y2="2431.0" stroke="#000" stroke-width="4.2"/>
<line x1="1512.2" y1="2455.0" x2="1512.2" y2="2409.0" stroke="#000" stroke-width="4.2"/>
<line x1="1560.8" y1="2455.0" x2="1560.8" y2="2431.0" stroke="#000" stroke-width="4.2"/>
<line x1="1609.5" y1="2455.0" x2="1609.5" y2="2431.0" stroke="#000" stroke-width="4.2"/>
<line x1="1658.2" y1="2455.0" x2="1658.2" y2="2431.0" stroke="#000" stroke-width="4.2"/>
<line x1="1706.9" y1="2455.0" x2="1706.9" y2="2409.0" stroke="#000" stroke-width="4.2"/>
<line x1="1755.6" y1="2455.0" x2="1755.6" y2="2431.0" stroke="#000" stroke-width="4.2"/>
<line x1="1804.3" y1="2455.0" x2="1804.3" y2="2431.0" stroke="#000" stroke-width="4.2"/>
<line x1="1853.0" y1="2455.0" x2="1853.0" y2="2431.0" stroke="#000" stroke-width="4.2"/>
<line x1="1901.6" y1="2455.0" x2="1901.6" y2="2409.0" stroke="#000" stroke-width="4.2"/>
<line x1="1950.3" y1="2455.0" x2="1950.3" y2="2431.0" stroke="#000" stroke-width="4.2"/>
<line x1="538.5" y1="2291.9" x2="585.5" y2="2291.9" stroke="#000" stroke-width="4.2"/>
<line x1="538.5" y1="2058.9" x2="585.5" y2="2058.9" stroke="#000" stroke-width="4.2"/>
<line x1="538.5" y1="1825.8" x2="585.5" y2="1825.8" stroke="#000" stroke-width="4.2"/>
<line x1="538.5" y1="1592.8" x2="585.5" y2="1592.8" stroke="#000" stroke-width="4.2"/>
<g id="curvesB" fill="none" stroke-linejoin="round" stroke-linecap="butt" stroke-width="4.4">
<polyline points="538.5,1826.1 548.9,1743.7 554.5,1690.9 558.3,1638.1 560.2,1614.5 562.4,1628.6 567.7,1637.1 579.0,1636.2 592.2,1630.5 601.7,1631.5 611.1,1635.2 620.5,1639.0 631.8,1645.6 639.4,1644.7 645.0,1653.1 650.7,1670.1 656.3,1674.8 662.0,1681.4 669.5,1685.2 674.3,1690.9 678.0,1702.2 680.9,1719.1 687.5,1717.3 692.2,1728.6 697.8,1745.5 703.5,1751.2 706.9,1752.0 710.4,1747.9 714.0,1750.7 717.5,1750.6 721.0,1752.9 724.5,1749.0 728.0,1742.3 731.5,1744.9 735.0,1741.8 738.5,1745.5 742.0,1744.8 745.5,1745.8 749.0,1754.4 752.5,1742.6 756.0,1744.3 759.5,1744.3 763.0,1754.5 766.5,1754.7 770.0,1750.8 773.5,1748.8 777.0,1745.2 780.6,1746.8 784.1,1744.3 787.6,1749.9 791.1,1745.6 794.6,1745.4 798.1,1750.5 801.6,1739.6 805.1,1745.1 808.6,1742.3 812.1,1753.8 815.6,1755.1 819.1,1751.6 822.6,1749.6 826.1,1742.8 829.6,1746.6 833.1,1753.1 836.6,1757.9 840.1,1753.8 843.6,1737.6 847.2,1756.5 850.7,1746.7 854.2,1745.0 857.7,1762.8 861.2,1748.5 864.7,1736.8 868.2,1767.7 871.7,1751.9 875.2,1749.9 878.7,1756.6 882.2,1744.3 885.7,1749.5 889.2,1762.6 892.7,1741.2 896.2,1742.7 899.7,1740.1 903.2,1735.5 906.7,1745.6 910.2,1747.8 913.8,1761.1 917.3,1743.2 920.8,1754.6 924.3,1753.2 927.8,1760.7 931.3,1758.0 934.8,1754.0 938.3,1737.1 941.8,1768.0 945.3,1762.7 948.8,1747.0 952.3,1735.8 955.8,1743.9 959.3,1767.0 962.8,1772.8 966.3,1746.1 969.8,1756.3 973.3,1759.9 976.8,1740.4 980.3,1739.3 983.9,1748.1 987.4,1747.4 990.9,1745.6 994.4,1734.9 997.9,1744.0 1001.4,1745.0 1004.9,1744.8 1008.4,1764.5 1011.9,1738.0 1015.4,1741.1 1018.9,1745.1 1022.4,1768.5 1025.9,1756.0 1029.4,1742.3 1032.9,1767.1 1036.4,1752.0 1039.9,1740.8 1043.4,1762.5 1046.9,1735.4 1050.5,1745.3 1054.0,1751.9 1057.5,1747.5 1061.0,1744.5 1064.5,1749.5 1068.0,1739.9 1071.5,1756.8 1075.0,1754.6 1078.5,1741.0 1082.0,1750.5 1085.5,1759.0 1089.0,1742.1 1092.5,1737.3 1096.0,1755.1 1099.5,1763.9 1103.0,1752.3 1106.5,1752.5 1110.0,1753.9 1113.5,1738.1 1117.1,1760.8 1120.6,1739.5 1124.1,1763.1 1127.6,1758.6 1131.1,1745.4 1134.6,1740.8 1138.1,1743.3 1141.6,1748.1 1145.1,1749.9 1148.6,1749.9 1152.1,1745.9 1155.6,1752.9 1159.1,1748.7 1162.6,1745.9 1166.1,1751.3 1169.6,1744.2 1173.1,1746.8 1176.6,1735.1 1180.1,1752.4 1183.7,1761.1 1187.2,1762.3 1190.7,1760.6 1194.2,1753.3 1197.7,1766.5 1201.2,1761.1 1204.7,1749.0 1208.2,1791.4 1211.7,1779.4 1215.2,1768.0 1218.7,1768.0 1222.2,1770.4 1225.7,1777.3 1229.2,1767.9 1232.7,1772.0 1236.2,1780.2 1239.7,1753.4 1243.2,1773.4 1246.7,1782.5 1250.3,1779.0 1253.8,1780.8 1257.3,1780.0 1260.8,1805.5 1264.3,1785.2 1267.8,1772.0 1271.3,1792.6 1274.8,1782.5 1278.3,1773.1 1281.8,1774.2 1285.3,1768.5 1288.8,1798.4 1292.3,1786.0 1295.8,1786.0 1299.3,1777.2 1302.8,1773.0 1306.3,1808.4 1309.8,1773.4 1313.3,1797.2 1316.8,1777.5 1320.4,1797.8 1323.9,1782.3 1327.4,1772.8 1330.9,1785.3 1334.4,1782.1 1337.9,1776.5 1341.4,1782.6 1344.9,1784.7 1348.4,1769.6 1351.9,1774.1 1355.4,1786.6 1358.9,1758.3 1362.4,1794.6 1365.9,1775.4 1369.4,1786.2 1372.9,1782.3 1376.4,1776.8 1379.9,1781.2 1383.4,1777.1 1387.0,1797.1 1390.5,1796.8 1394.0,1776.8 1397.5,1791.4 1401.0,1791.8 1404.5,1795.8 1408.0,1770.1 1411.5,1774.8 1415.0,1767.8 1418.5,1790.1 1422.0,1781.2 1425.5,1791.7 1429.0,1773.7 1432.5,1765.9 1436.0,1788.9 1439.5,1765.8 1443.0,1771.0 1446.5,1781.7 1450.0,1798.3 1453.6,1766.6 1457.1,1780.4 1460.6,1785.0 1464.1,1775.5 1467.6,1775.2 1471.1,1764.9 1474.6,1788.2 1478.1,1767.9 1481.6,1764.5 1485.1,1764.7 1488.6,1779.7 1492.1,1784.8 1495.6,1768.2 1499.1,1776.5 1502.6,1776.2 1506.1,1763.9 1509.6,1779.5 1513.1,1798.5 1516.6,1781.2 1520.2,1795.4 1523.7,1795.4 1523.7,1773.0 1533.4,1773.0 1533.4,1775.4 1543.1,1775.4 1543.1,1780.8 1553.8,1780.8 1553.8,1782.1 1564.5,1782.1 1564.5,1787.1 1575.3,1787.1 1575.3,1780.0 1576.8,1769.8 1578.3,1780.0 1584.0,1780.0 1584.0,1800.7 1593.8,1800.7 1593.8,1798.9 1595.3,1789.1 1596.8,1798.9 1602.5,1798.9 1602.5,1798.5 1612.3,1798.5 1612.3,1795.7 1621.0,1795.7 1621.0,1800.7 1629.8,1800.7 1629.8,1793.5 1640.5,1793.5 1640.5,1788.8 1649.3,1788.8 1649.3,1804.2 1659.0,1804.2 1659.0,1792.6 1669.7,1792.6 1669.7,1808.7 1679.4,1808.7 1679.4,1796.8 1689.2,1796.8 1689.2,1782.9 1690.7,1790.0 1692.2,1782.9 1697.9,1782.9 1697.9,1801.2 1707.7,1801.2 1707.7,1787.8 1709.2,1800.1 1710.7,1787.8 1717.4,1787.8 1717.4,1787.6 1727.2,1787.6 1727.2,1778.9 1736.9,1778.9 1736.9,1779.6 1745.7,1779.6 1745.7,1800.1 1755.4,1800.1 1755.4,1791.8 1756.9,1805.8 1758.4,1791.8 1766.1,1791.8 1766.1,1799.9 1775.8,1799.9 1775.8,1794.3 1777.3,1803.8 1778.8,1794.3 1784.6,1794.3 1784.6,1805.1 1793.4,1805.1 1793.4,1793.8 1794.9,1780.0 1796.4,1793.8 1802.1,1793.8 1802.1,1795.2 1811.9,1795.2 1811.9,1798.7 1821.6,1798.7 1821.6,1797.3 1831.3,1797.3 1831.3,1817.1 1842.0,1817.1 1842.0,1807.5 1843.5,1798.1 1845.0,1807.5 1850.8,1807.5 1850.8,1809.7 1859.6,1809.7 1859.6,1815.5 1861.1,1809.0 1862.6,1815.5 1868.3,1815.5 1868.3,1817.1 1878.1,1817.1 1878.1,1800.9 1887.8,1800.9 1887.8,1809.0 1889.3,1795.5 1890.8,1809.0 1897.5,1809.0 1897.5,1809.6 1901.6,1809.6" stroke="#ff0000"/>
<polyline points="538.5,1826.1 544.1,1841.7 548.9,1858.7 552.6,1834.2 556.4,1813.4 561.1,1808.7 567.7,1807.8 573.4,1811.5 577.8,1810.3 582.2,1809.0 586.6,1807.8 594.1,1804.9 601.7,1806.8 606.4,1810.1 611.1,1813.4 616.7,1813.4 622.4,1813.4 629.9,1809.7 635.6,1807.8 641.3,1803.1 646.9,1798.3 654.5,1785.1 662.0,1768.2 669.5,1755.0 675.2,1749.3 680.9,1751.2 686.5,1746.5 694.1,1746.5 698.8,1743.2 703.5,1739.9 711.0,1730.1 715.7,1726.0 720.5,1720.7 725.2,1715.7 729.9,1709.3 734.6,1701.5 739.3,1694.7 744.0,1691.2 748.7,1683.2 753.5,1678.7 758.2,1670.2 763.8,1670.1 769.5,1668.4 777.0,1650.8 781.4,1644.2 785.8,1640.6 790.2,1635.0 797.8,1630.1 802.5,1622.2 807.2,1617.4 811.9,1615.0 816.6,1610.3 819.5,1604.7 824.2,1621.7 830.0,1620.7 837.4,1619.2 841.8,1608.6 846.1,1602.7 850.5,1606.1 854.9,1616.6 859.2,1616.9 863.6,1620.9 867.9,1613.8 872.3,1605.7 876.7,1608.4 881.0,1613.2 885.4,1619.0 889.7,1627.0 894.1,1632.9 898.4,1628.7 902.8,1621.6 908.3,1634.8 913.7,1649.1 918.1,1641.3 922.4,1632.2 927.9,1639.9 933.3,1645.2 938.4,1648.2 943.5,1655.0 948.6,1659.1 954.0,1662.8 959.5,1663.7 963.8,1670.4 968.2,1681.6 972.5,1679.6 976.9,1676.6 981.3,1688.0 985.6,1699.5 990.0,1699.5 994.3,1699.8 998.7,1695.9 1003.0,1705.1 1007.4,1712.9 1011.8,1708.1 1016.1,1701.1 1021.6,1709.5 1027.0,1719.6 1032.5,1718.8 1037.9,1720.0 1044.4,1713.0 1048.8,1717.4 1053.2,1721.4 1057.5,1712.6 1061.9,1707.6 1066.2,1703.1 1070.6,1696.5 1075.7,1696.0 1080.8,1691.3 1085.9,1689.4 1090.2,1682.7 1094.6,1676.8 1101.1,1662.4 1107.6,1666.9 1114.2,1648.2 1118.5,1650.3 1122.9,1652.6 1127.3,1646.1 1131.6,1635.5 1136.0,1627.6 1140.3,1619.0 1145.8,1604.5 1151.2,1591.5 1157.8,1586.4 1164.3,1583.8 1168.7,1569.8 1173.0,1555.5 1180.0,1545.0 1184.0,1542.0 1191.0,1529.3 1195.7,1523.4 1200.4,1522.0 1207.4,1504.5 1211.4,1506.7 1215.5,1502.4 1220.8,1496.8 1226.0,1487.3 1233.0,1493.2 1238.9,1488.4 1244.7,1484.2 1249.4,1484.9 1254.1,1482.1 1258.7,1480.7 1263.4,1481.5 1268.1,1481.0 1275.1,1472.3 1279.7,1473.8 1284.4,1477.2 1289.1,1480.7 1293.7,1482.0 1298.4,1479.6 1303.1,1479.4 1307.8,1486.6 1312.4,1496.3 1317.1,1494.6 1321.8,1496.3 1327.6,1493.9 1333.4,1493.2 1338.1,1501.5 1342.8,1512.9 1348.6,1495.2 1354.5,1517.0 1361.5,1526.2 1368.5,1521.1 1375.5,1540.4 1380.1,1543.3 1384.8,1546.9 1389.5,1546.1 1394.1,1546.7 1401.1,1559.0 1408.2,1568.8 1412.8,1565.4 1417.5,1568.7 1422.2,1569.1 1426.8,1569.3 1431.5,1577.2 1436.2,1583.1 1443.2,1590.3 1446.7,1579.8 1450.8,1584.8 1454.8,1589.7 1461.9,1574.9 1467.7,1574.1 1473.5,1574.6 1479.4,1578.3 1485.2,1583.7 1492.2,1561.7 1496.9,1559.4 1501.5,1556.8 1506.2,1553.1 1510.9,1557.8 1515.6,1556.3 1520.2,1552.8 1522.6,1529.4 1530.0,1527.1 1535.3,1542.7 1542.9,1542.7 1545.4,1524.9 1551.8,1518.6 1556.2,1520.5 1560.7,1522.4 1563.2,1527.5 1568.3,1527.9 1573.4,1528.3 1578.5,1528.7 1581.0,1519.8 1586.1,1522.4 1591.2,1524.9 1596.3,1527.5 1601.4,1537.6 1609.0,1540.2 1616.6,1542.7 1620.4,1555.4 1624.9,1556.7 1629.3,1558.0 1631.9,1547.8 1639.5,1545.3 1647.1,1555.4 1652.2,1556.7 1657.3,1558.0 1657.3,1573.2 1662.4,1573.2 1667.5,1573.2 1667.5,1555.4 1672.6,1555.4 1677.6,1555.4 1677.6,1568.2 1682.7,1568.8 1687.8,1569.4 1695.4,1563.1 1699.7,1562.2 1703.9,1561.4 1708.2,1560.5 1708.2,1542.7 1713.2,1542.7 1718.3,1542.7 1723.4,1532.6 1727.6,1530.9 1731.9,1529.2 1736.1,1527.5 1741.2,1526.2 1746.3,1524.9 1746.3,1510.9 1750.7,1510.9 1755.2,1510.9 1759.6,1510.9 1764.1,1510.9 1764.1,1484.2 1769.2,1483.0 1774.3,1481.7 1776.8,1474.1 1784.4,1471.5 1787.0,1477.9 1794.6,1475.3 1794.6,1463.9 1799.7,1463.9 1804.8,1463.9 1804.8,1448.6 1812.4,1446.1 1817.5,1443.6 1822.6,1441.0 1827.7,1438.5 1832.7,1435.9 1832.7,1419.4 1837.8,1419.4 1842.9,1419.4 1842.9,1439.8 1848.0,1437.2 1853.1,1434.7 1853.1,1424.5 1858.2,1423.9 1863.2,1423.2 1863.2,1414.3 1868.3,1413.7 1873.4,1413.1 1881.0,1409.2 1883.6,1418.1 1888.7,1418.8 1893.8,1419.4 1898.8,1422.0 1902.7,1419.4" stroke="#ff0000"/>
<polyline points="538.5,1826.3 543.5,1867.3 550.2,1934.6 553.6,1943.6 556.9,1912.2 560.3,1886.4 560.3,1905.5 563.7,1915.5 574.9,1916.7 597.3,1913.3 615.3,1909.9 626.5,1911.1 635.5,1916.7 644.4,1930.1 653.4,1948.1 662.4,1975.0 669.1,2001.9 675.8,2015.4 684.8,2035.6 693.8,2058.0 702.8,2071.5 711.7,2082.7 720.7,2084.9 731.9,2098.4 743.1,2111.9 754.4,2129.8 765.6,2147.8 776.8,2156.7 788.0,2165.7 799.2,2176.9 810.5,2185.9 819.4,2191.5 830.7,2191.5 835.1,2185.9 841.9,2187.0 846.4,2192.6 857.6,2197.1 866.5,2197.1 875.5,2196.0 886.7,2197.1 893.5,2188.2 900.0,2185.9 904.5,2188.2 914.2,2181.0 926.3,2166.4 938.4,2153.1 948.1,2150.7 960.2,2139.8 969.9,2125.3 979.6,2124.1 989.3,2116.8 999.0,2112.0 1011.1,2093.8 1020.8,2095.0 1030.4,2093.8 1040.1,2086.5 1052.2,2086.5 1061.9,2093.8 1074.0,2105.9 1086.1,2119.2 1095.8,2120.4 1105.5,2137.4 1115.2,2159.2 1124.9,2168.9 1134.6,2178.5 1144.2,2190.7 1153.9,2212.4 1163.6,2234.2 1173.3,2258.5 1183.0,2280.2 1192.7,2299.6 1199.9,2309.3 1209.6,2319.0 1219.3,2333.5 1229.0,2342.5 1243.5,2342.5 1250.8,2340.8 1260.5,2348.0 1277.4,2348.0 1290.0,2351.7 1298.4,2348.4 1307.6,2341.5 1316.8,2332.3 1326.0,2330.0 1335.2,2327.7 1344.4,2318.5 1353.6,2317.4 1360.5,2304.7 1369.7,2288.6 1378.9,2281.7 1388.1,2267.9 1397.3,2265.6 1406.5,2263.3 1415.7,2254.1 1427.2,2244.9 1436.4,2236.9 1445.6,2235.7 1454.8,2233.4 1464.0,2242.6 1475.5,2255.3 1482.4,2256.4 1489.3,2254.1 1498.5,2269.1 1507.7,2274.8 1514.6,2279.4 1521.5,2280.6 1521.5,2290.9 1530.7,2294.4 1533.0,2303.6 1539.9,2302.4 1546.9,2299.0 1553.8,2303.6 1560.7,2303.6 1563.0,2309.3 1579.1,2309.3 1588.3,2305.9 1597.5,2303.6 1602.1,2308.2 1610.1,2305.9 1610.1,2301.3 1620.5,2295.5 1629.7,2289.8 1638.9,2284.0 1641.2,2279.4 1650.4,2274.8 1660.0,2270.2 1667.5,2265.9 1688.1,2265.9 1688.1,2272.8 1697.2,2275.1 1706.4,2276.2 1708.6,2279.6 1716.7,2280.8 1716.7,2287.6 1727.0,2288.8 1727.0,2299.1 1736.1,2300.2 1736.1,2309.4 1745.3,2310.5 1745.3,2319.7 1754.4,2322.0 1756.7,2328.8 1764.7,2328.8 1764.7,2335.7 1775.0,2338.0 1775.0,2357.4 1784.2,2358.6 1784.2,2367.7 1793.3,2368.9 1795.6,2373.5 1804.8,2374.6 1804.8,2384.9 1813.9,2386.0 1813.9,2399.8 1823.1,2400.9 1825.4,2408.9 1833.4,2410.1 1833.4,2419.2 1841.4,2419.2 1845.9,2416.9 1851.7,2415.8 1851.7,2420.4 1860.8,2421.5 1864.3,2424.9 1872.3,2426.1 1872.3,2430.7 1882.6,2431.8 1882.6,2438.7 1891.7,2438.7 1894.0,2433.0 1898.6,2430.7 1902.0,2428.4" stroke="#ff0000"/>
<polyline points="538.5,1826.1 540.4,1793.6 542.3,1761.1 544.1,1728.6 546.0,1710.7 547.9,1692.7 550.3,1689.9 552.6,1687.1 554.5,1675.8 556.4,1664.5 558.3,1653.1 560.2,1645.6 562.1,1650.0 563.9,1628.7 565.8,1648.6 567.7,1618.3 569.3,1650.8 570.9,1616.3 572.6,1659.6 574.2,1625.8 575.8,1647.0 577.4,1619.6 579.0,1658.9 580.7,1618.8 582.3,1648.7 584.0,1618.8 585.6,1653.0 587.3,1615.2 588.9,1652.0 590.6,1615.6 592.2,1654.0 594.1,1609.6 596.0,1646.3 597.9,1618.8 599.8,1644.9 601.7,1618.6 603.5,1653.7 605.4,1613.4 607.3,1645.8 609.2,1611.6 611.1,1658.0 613.0,1615.2 614.9,1647.6 616.7,1619.8 618.6,1660.5 620.5,1624.1 622.1,1650.8 623.7,1624.1 625.4,1653.7 627.0,1628.7 628.6,1657.9 630.2,1630.8 631.8,1653.9 633.5,1641.5 635.1,1657.6 636.8,1650.7 638.4,1664.2 641.3,1681.4 643.1,1683.3 645.0,1685.2 646.9,1687.1 648.8,1689.0 650.7,1690.9 652.6,1693.5 654.5,1696.1 656.3,1698.8 658.2,1701.4 660.1,1704.1 662.0,1705.9 663.9,1707.8 665.8,1709.7 667.7,1709.9 669.5,1710.1 671.4,1710.3 673.3,1710.5 675.2,1710.7 677.1,1713.5 679.0,1716.3 680.9,1719.1 682.7,1721.0 684.6,1722.9 686.5,1724.8 688.4,1726.7 690.3,1728.6 692.2,1731.1 694.1,1733.6 695.9,1736.1 697.8,1739.9 699.7,1743.7 701.6,1747.4 706.9,1747.9 710.4,1753.0 714.0,1746.6 717.5,1745.0 721.0,1749.0 724.5,1738.6 728.0,1745.4 731.5,1746.3 735.0,1743.7 738.5,1747.6 742.0,1744.9 745.5,1747.8 749.0,1739.9 752.5,1746.5 756.0,1738.6 759.5,1739.4 763.0,1742.0 766.5,1742.8 770.0,1741.7 773.5,1749.7 777.0,1744.2 780.6,1748.0 784.1,1748.1 787.6,1738.1 791.1,1749.5 794.6,1741.7 798.1,1739.2 801.6,1746.2 805.1,1753.9 808.6,1747.2 812.1,1762.9 815.6,1755.8 819.1,1748.1 822.6,1752.4 826.1,1752.3 829.6,1742.2 833.1,1762.1 836.6,1758.8 840.1,1749.7 843.6,1752.3 847.2,1759.5 850.7,1735.8 854.2,1757.3 857.7,1764.5 861.2,1756.1 864.7,1734.8 868.2,1747.5 871.7,1744.6 875.2,1763.0 878.7,1736.1 882.2,1752.6 885.7,1746.6 889.2,1747.6 892.7,1764.3 896.2,1766.9 899.7,1756.2 903.2,1741.8 906.7,1747.2 910.2,1748.4 913.8,1755.8 917.3,1750.3 920.8,1749.8 924.3,1738.7 927.8,1729.4 931.3,1739.8 934.8,1745.7 938.3,1751.5 941.8,1764.3 945.3,1751.7 948.8,1765.9 952.3,1746.5 955.8,1745.4 959.3,1754.9 962.8,1749.1 966.3,1756.2 969.8,1755.5 973.3,1757.9 976.8,1747.4 980.3,1752.6 983.9,1743.1 987.4,1753.7 990.9,1737.1 994.4,1745.9 997.9,1745.8 1001.4,1737.9 1004.9,1756.5 1008.4,1738.1 1011.9,1754.5 1015.4,1762.2 1018.9,1742.9 1022.4,1742.1 1025.9,1775.0 1029.4,1747.9 1032.9,1744.9 1036.4,1746.4 1039.9,1764.9 1043.4,1749.4 1046.9,1752.7 1050.5,1740.2 1054.0,1747.3 1057.5,1779.8 1061.0,1758.2 1064.5,1753.0 1068.0,1741.6 1071.5,1745.2 1075.0,1751.6 1078.5,1747.1 1082.0,1780.9 1085.5,1752.1 1089.0,1741.7 1092.5,1751.3 1096.0,1732.3 1099.5,1761.8 1103.0,1747.4 1106.5,1749.3 1110.0,1751.2 1113.5,1758.4 1117.1,1759.3 1120.6,1741.5 1124.1,1756.4 1127.6,1756.8 1131.1,1744.5 1134.6,1745.5 1138.1,1770.3 1141.6,1751.0 1145.1,1755.6 1148.6,1747.9 1152.1,1737.9 1155.6,1755.6 1159.1,1763.7 1162.6,1742.9 1166.1,1759.1 1169.6,1746.7 1173.1,1746.1 1176.6,1748.0 1180.1,1759.3 1183.7,1749.6 1187.2,1776.6 1190.7,1747.3 1194.2,1761.4 1197.7,1762.0 1201.2,1765.2 1204.7,1773.2 1208.2,1759.0 1211.7,1765.2 1215.2,1767.8 1218.7,1774.4 1222.2,1758.7 1225.7,1780.4 1229.2,1769.4 1232.7,1780.7 1236.2,1762.3 1239.7,1771.6 1243.2,1780.2 1246.7,1781.3 1250.3,1768.2 1253.8,1780.5 1257.3,1785.8 1260.8,1765.3 1264.3,1778.6 1267.8,1791.0 1271.3,1766.2 1274.8,1779.0 1278.3,1797.4 1281.8,1771.0 1285.3,1788.3 1288.8,1784.6 1292.3,1763.7 1295.8,1772.3 1299.3,1793.9 1302.8,1776.4 1306.3,1771.2 1309.8,1769.2 1313.3,1804.2 1316.8,1782.0 1320.4,1789.3 1323.9,1785.7 1327.4,1790.4 1330.9,1780.0 1334.4,1784.4 1337.9,1768.6 1341.4,1789.4 1344.9,1791.7 1348.4,1783.1 1351.9,1773.2 1355.4,1786.2 1358.9,1788.0 1362.4,1786.2 1365.9,1786.8 1369.4,1800.8 1372.9,1783.6 1376.4,1793.1 1379.9,1786.4 1383.4,1790.9 1387.0,1769.3 1390.5,1793.3 1394.0,1777.4 1397.5,1782.2 1401.0,1776.5 1404.5,1789.7 1408.0,1784.7 1411.5,1793.2 1415.0,1769.1 1418.5,1780.8 1422.0,1779.4 1425.5,1774.8 1429.0,1787.5 1432.5,1780.9 1436.0,1787.0 1439.5,1782.4 1443.0,1764.8 1446.5,1792.2 1450.0,1779.7 1453.6,1788.8 1457.1,1768.6 1460.6,1795.6 1464.1,1782.2 1467.6,1776.7 1471.1,1782.2 1474.6,1771.4 1478.1,1784.1 1481.6,1784.4 1485.1,1786.1 1488.6,1784.5 1492.1,1762.0 1495.6,1772.9 1499.1,1778.5 1502.6,1791.5 1506.1,1770.0 1509.6,1768.8 1513.1,1800.1 1516.6,1781.3 1520.2,1778.0 1523.7,1778.0 1523.7,1764.3 1534.4,1764.3 1534.4,1787.4 1544.1,1787.4 1544.1,1781.2 1545.6,1767.7 1547.1,1781.2 1554.8,1781.2 1554.8,1788.9 1556.3,1782.9 1557.8,1788.9 1564.5,1788.9 1564.5,1784.0 1574.3,1784.0 1574.3,1771.7 1584.0,1771.7 1584.0,1796.3 1592.8,1796.3 1592.8,1791.7 1594.3,1782.6 1595.8,1791.7 1602.5,1791.7 1602.5,1792.0 1613.2,1792.0 1613.2,1793.9 1623.0,1793.9 1623.0,1803.4 1632.7,1803.4 1632.7,1806.9 1641.5,1806.9 1641.5,1785.7 1650.2,1785.7 1650.2,1799.8 1651.7,1806.4 1653.2,1799.8 1660.0,1799.8 1660.0,1805.8 1661.5,1794.3 1663.0,1805.8 1670.7,1805.8 1670.7,1812.0 1681.4,1812.0 1681.4,1794.4 1690.2,1794.4 1690.2,1786.8 1691.7,1778.3 1693.2,1786.8 1699.9,1786.8 1699.9,1798.3 1709.6,1798.3 1709.6,1793.9 1711.1,1804.8 1712.6,1793.9 1719.4,1793.9 1719.4,1813.4 1720.9,1800.1 1722.4,1813.4 1728.1,1813.4 1728.1,1796.1 1729.6,1786.8 1731.1,1796.1 1736.9,1796.1 1736.9,1793.8 1746.6,1793.8 1746.6,1789.2 1755.4,1789.2 1755.4,1789.9 1756.9,1796.1 1758.4,1789.9 1766.1,1789.9 1766.1,1797.1 1775.8,1797.1 1775.8,1796.8 1777.3,1787.9 1778.8,1796.8 1784.6,1796.8 1784.6,1791.6 1794.3,1791.6 1794.3,1800.6 1805.0,1800.6 1805.0,1782.6 1806.5,1790.2 1808.0,1782.6 1815.8,1782.6 1815.8,1786.8 1824.5,1786.8 1824.5,1781.6 1834.3,1781.6 1834.3,1781.8 1835.8,1772.1 1837.3,1781.8 1843.0,1781.8 1843.0,1796.1 1851.8,1796.1 1851.8,1778.6 1860.5,1778.6 1860.5,1786.5 1870.3,1786.5 1870.3,1781.5 1879.0,1781.5 1879.0,1794.2 1880.5,1787.3 1882.0,1794.2 1889.8,1794.2 1889.8,1791.4 1900.5,1791.4 1900.5,1808.3 1901.6,1808.3" stroke="#0030cc"/>
<polyline points="538.5,1826.1 540.4,1831.3 542.3,1836.5 544.1,1841.7 546.0,1845.5 547.9,1849.3 550.3,1841.7 552.6,1834.2 554.5,1823.8 556.4,1813.4 558.8,1811.5 561.1,1809.7 562.8,1809.0 564.4,1812.4 566.1,1802.8 567.7,1811.5 569.6,1804.3 571.5,1814.3 573.4,1805.5 575.0,1817.7 576.7,1805.3 578.3,1818.3 580.0,1804.0 581.6,1815.7 583.3,1803.7 584.9,1813.3 586.6,1803.3 588.5,1814.9 590.3,1800.4 592.2,1811.9 594.1,1798.2 596.0,1812.4 597.9,1796.7 599.8,1810.7 601.7,1797.3 603.5,1813.5 605.4,1799.8 607.3,1815.2 609.2,1804.1 611.1,1816.0 612.7,1805.9 614.3,1815.7 615.9,1806.1 617.6,1818.6 619.2,1807.0 620.8,1816.6 622.4,1803.2 624.3,1817.0 626.2,1802.0 628.1,1811.9 629.9,1798.8 631.8,1809.4 633.7,1801.5 635.6,1807.9 637.5,1802.1 639.4,1811.2 641.3,1807.7 643.1,1810.6 645.0,1804.3 646.9,1804.0 648.8,1802.1 650.7,1800.2 652.6,1796.8 654.5,1793.4 656.3,1790.0 658.2,1786.7 660.1,1783.3 661.8,1782.3 663.4,1781.4 665.1,1780.4 666.7,1779.5 668.4,1778.5 670.0,1777.6 671.7,1776.7 673.3,1775.7 675.2,1771.5 677.1,1767.2 679.0,1763.0 680.9,1758.7 682.7,1758.4 684.6,1758.0 686.5,1757.6 688.4,1757.2 690.3,1756.9 692.2,1756.9 694.1,1756.9 695.9,1756.9 697.8,1756.9 699.7,1751.2 701.6,1745.5 703.5,1739.9 705.4,1736.2 707.3,1733.0 709.1,1730.8 711.0,1730.1 712.9,1730.7 714.8,1731.3 716.7,1729.3 718.6,1729.6 720.5,1728.6 722.3,1727.4 724.2,1725.4 726.1,1724.2 728.0,1721.1 729.9,1716.4 731.8,1715.0 733.7,1712.4 735.5,1710.0 737.4,1711.4 739.3,1707.9 741.2,1704.7 743.1,1705.5 745.0,1702.0 746.9,1700.0 748.7,1700.4 750.6,1696.7 752.5,1698.3 754.4,1695.6 756.3,1689.5 758.2,1688.8 760.1,1684.1 761.9,1685.0 763.8,1679.7 765.7,1678.1 767.6,1676.4 769.5,1673.8 771.4,1670.0 773.3,1666.6 775.1,1665.6 777.0,1662.5 778.9,1661.4 780.8,1661.7 782.7,1660.3 784.6,1658.9 786.5,1659.0 788.3,1657.6 790.2,1656.4 791.8,1655.9 793.5,1655.3 795.1,1654.8 796.7,1654.5 798.3,1655.5 799.9,1655.3 801.5,1654.7 803.4,1650.8 805.3,1650.3 807.2,1647.6 809.1,1642.7 811.0,1643.2 812.9,1642.0 814.7,1646.1 816.6,1647.0 818.5,1650.4 820.4,1652.4 822.0,1653.1 823.6,1653.0 825.2,1650.8 826.8,1649.3 828.4,1649.6 830.0,1653.1 831.9,1649.1 833.7,1647.4 835.6,1645.5 837.4,1645.1 839.2,1645.7 841.1,1648.0 842.9,1646.5 844.7,1648.3 846.5,1650.8 848.3,1649.7 850.0,1650.7 851.6,1654.0 853.2,1655.5 854.9,1656.8 856.6,1659.0 858.4,1657.9 860.1,1659.9 861.8,1657.7 863.6,1657.1 865.3,1659.8 867.1,1661.2 868.8,1661.2 870.6,1664.0 872.3,1665.7 874.1,1664.6 875.9,1663.3 877.7,1660.0 879.6,1659.3 881.4,1654.6 883.2,1655.3 885.0,1658.8 886.8,1659.1 888.6,1661.0 890.5,1663.5 892.3,1666.0 894.1,1669.1 895.7,1669.0 897.4,1667.7 899.0,1670.1 900.6,1670.4 902.3,1666.8 903.9,1668.5 905.5,1667.4 907.2,1667.4 909.3,1677.3 911.5,1686.8 913.2,1689.8 914.8,1692.1 916.4,1691.1 918.1,1693.0 920.2,1684.1 922.4,1677.9 924.1,1680.1 925.7,1682.5 927.3,1687.8 929.0,1689.3 930.6,1688.7 932.2,1689.0 933.9,1691.2 935.5,1692.7 937.1,1693.5 938.8,1693.4 940.4,1694.1 942.0,1692.3 943.7,1697.6 945.3,1705.1 946.9,1710.4 948.6,1714.1 950.7,1708.0 952.9,1700.3 954.6,1707.9 956.2,1712.2 957.8,1718.3 959.5,1723.5 961.2,1722.4 963.0,1722.1 964.7,1722.3 966.4,1724.2 968.2,1725.8 969.8,1725.7 971.4,1730.2 973.1,1734.9 974.7,1735.7 976.4,1736.2 978.0,1732.9 979.6,1732.5 981.3,1732.5 983.0,1730.5 984.7,1734.9 986.5,1736.1 988.2,1739.0 990.0,1738.7 991.7,1738.4 993.5,1736.0 995.2,1729.8 996.9,1728.3 998.7,1725.2 1000.4,1730.2 1002.2,1733.1 1003.9,1735.2 1005.7,1738.2 1007.4,1739.6 1009.1,1741.3 1010.9,1739.4 1012.6,1739.1 1014.4,1742.0 1016.1,1741.3 1017.9,1739.6 1019.8,1742.7 1021.6,1740.0 1023.4,1740.5 1025.2,1739.8 1027.0,1742.0 1028.8,1738.7 1030.6,1737.8 1032.5,1737.4 1034.3,1737.5 1036.1,1732.3 1037.9,1734.5 1039.7,1730.2 1041.4,1724.9 1043.1,1723.7 1044.9,1719.4 1046.6,1715.2 1048.8,1721.9 1051.0,1730.4 1052.7,1730.4 1054.5,1729.8 1056.2,1730.6 1058.0,1731.4 1059.7,1732.6 1061.5,1731.7 1063.3,1730.9 1065.2,1726.9 1067.0,1725.5 1068.8,1727.1 1070.6,1724.2 1072.2,1719.7 1073.9,1716.4 1075.5,1714.9 1077.1,1710.8 1078.9,1711.4 1080.6,1714.5 1082.4,1711.7 1084.1,1715.0 1085.9,1716.1 1087.5,1709.2 1089.1,1702.7 1090.8,1693.9 1092.4,1691.1 1094.1,1688.7 1095.9,1691.3 1097.6,1692.7 1099.4,1695.8 1101.1,1696.6 1102.7,1694.4 1104.4,1690.5 1106.0,1689.5 1107.6,1684.1 1109.4,1679.2 1111.1,1674.6 1112.9,1668.4 1114.6,1662.5 1116.4,1659.4 1118.0,1659.2 1119.6,1662.3 1121.3,1662.6 1122.9,1661.1 1124.6,1658.0 1126.4,1654.8 1128.1,1651.9 1129.9,1647.9 1131.6,1646.3 1133.4,1639.4 1135.2,1635.1 1137.1,1629.9 1138.9,1627.3 1140.7,1620.0 1142.5,1613.3 1144.3,1617.0 1146.0,1617.0 1147.7,1613.3 1149.5,1616.6 1151.2,1615.6 1153.0,1612.9 1154.7,1607.8 1156.5,1603.9 1158.2,1600.6 1159.9,1593.6 1161.7,1589.1 1163.4,1584.4 1165.2,1579.2 1166.9,1575.3 1168.7,1569.7 1170.3,1565.9 1171.9,1562.8 1173.5,1558.1 1175.1,1553.6 1176.8,1553.1 1178.4,1548.9 1180.0,1544.8 1181.8,1539.6 1183.7,1539.7 1185.5,1539.2 1187.3,1535.3 1189.2,1533.7 1191.0,1533.3 1192.9,1529.2 1194.7,1523.7 1196.6,1518.3 1198.5,1515.9 1200.4,1511.7 1202.2,1505.7 1204.1,1502.2 1206.0,1498.9 1207.8,1492.8 1209.7,1489.3 1211.4,1492.8 1213.2,1495.0 1214.9,1500.1 1216.7,1500.6 1218.6,1496.7 1220.4,1493.3 1222.3,1485.5 1224.2,1482.1 1226.0,1476.8 1227.9,1476.6 1229.8,1476.7 1231.6,1472.7 1233.5,1473.2 1235.4,1468.5 1237.0,1471.4 1238.7,1468.5 1240.4,1468.2 1242.0,1467.6 1243.7,1469.7 1245.4,1466.8 1247.0,1465.8 1249.4,1472.1 1251.7,1480.6 1253.5,1478.5 1255.2,1475.1 1257.0,1474.0 1258.7,1471.1 1260.4,1468.7 1262.0,1463.0 1263.6,1460.9 1265.3,1456.2 1266.9,1454.3 1268.5,1455.4 1270.2,1458.8 1271.8,1459.1 1273.4,1462.4 1275.1,1462.6 1276.9,1462.2 1278.8,1463.1 1280.7,1461.1 1282.5,1462.6 1284.4,1458.9 1286.3,1462.2 1288.1,1462.7 1290.0,1463.2 1291.9,1460.6 1293.7,1462.2 1295.5,1467.5 1297.2,1473.0 1299.0,1477.1 1300.7,1481.1 1302.5,1480.0 1304.3,1478.3 1306.0,1474.2 1307.8,1473.0 1309.5,1477.7 1311.3,1476.7 1313.0,1481.8 1314.8,1481.8 1316.5,1486.1 1318.3,1487.0 1320.0,1492.9 1321.8,1495.2 1324.1,1491.2 1326.4,1489.1 1328.2,1493.2 1329.9,1498.0 1331.7,1502.4 1333.4,1506.7 1335.3,1503.2 1337.2,1505.2 1339.0,1505.2 1340.9,1501.9 1342.8,1500.6 1345.1,1512.1 1347.4,1523.6 1349.2,1522.2 1350.9,1521.9 1352.7,1521.4 1354.5,1523.7 1356.2,1525.2 1358.0,1531.3 1359.7,1533.4 1361.5,1535.4 1363.2,1537.5 1365.0,1541.8 1366.7,1543.3 1368.5,1545.3 1370.8,1546.2 1373.1,1551.8 1375.1,1555.9 1377.0,1555.1 1379.0,1557.6 1380.9,1565.3 1382.9,1575.0 1384.8,1582.9 1386.6,1583.3 1388.3,1581.7 1390.1,1579.3 1391.8,1578.3 1393.8,1584.4 1395.7,1594.7 1397.6,1601.6 1400.0,1594.0 1402.3,1588.4 1404.3,1596.8 1406.2,1605.3 1408.2,1613.5 1409.9,1616.4 1411.7,1619.9 1413.4,1619.1 1415.2,1621.6 1417.5,1627.2 1419.8,1631.8 1421.7,1634.2 1423.6,1635.6 1425.4,1635.3 1427.3,1636.7 1429.2,1637.8 1430.9,1634.3 1432.7,1634.5 1434.4,1633.7 1436.2,1631.6 1438.0,1634.7 1439.9,1636.2 1441.8,1640.3 1443.6,1640.9 1445.5,1643.2 1447.1,1647.9 1448.8,1648.5 1450.4,1652.7 1452.0,1653.7 1453.7,1655.6 1455.4,1650.9 1457.2,1642.7 1458.9,1646.0 1460.7,1644.7 1462.4,1643.8 1464.2,1646.4 1466.1,1642.3 1467.9,1641.8 1469.8,1639.7 1471.7,1637.7 1473.5,1635.3 1475.9,1631.4 1478.2,1630.2 1479.9,1636.2 1481.7,1638.8 1483.4,1643.5 1485.2,1644.6 1487.0,1639.0 1488.7,1634.3 1490.5,1630.0 1492.2,1626.2 1494.1,1628.1 1495.9,1626.8 1497.8,1627.6 1499.7,1627.2 1501.5,1625.2 1503.3,1620.2 1505.0,1616.9 1506.8,1615.1 1508.5,1609.7 1510.4,1611.7 1512.3,1612.1 1514.2,1612.5 1516.0,1613.0 1517.9,1613.5 1520.2,1615.8 1522.6,1618.2 1524.9,1599.5 1526.6,1599.1 1528.3,1598.7 1530.0,1598.3 1531.8,1600.1 1533.5,1601.9 1535.3,1603.7 1537.2,1603.1 1539.1,1602.5 1541.0,1601.8 1542.9,1601.2 1542.9,1591.0 1544.8,1592.0 1546.7,1592.9 1548.6,1593.9 1550.5,1594.8 1550.5,1585.9 1552.2,1585.5 1553.9,1585.1 1555.6,1584.7 1557.3,1584.3 1559.0,1583.8 1560.7,1583.4 1560.7,1572.0 1562.4,1571.8 1564.1,1571.5 1565.8,1571.3 1567.5,1571.1 1569.2,1570.9 1570.9,1570.7 1572.6,1570.4 1574.4,1570.2 1576.2,1569.9 1578.0,1569.7 1579.8,1569.4 1579.8,1559.3 1581.5,1559.0 1583.3,1558.7 1585.1,1558.5 1586.9,1558.2 1588.6,1558.0 1590.3,1553.7 1592.0,1549.5 1593.7,1545.3 1595.9,1544.8 1598.0,1544.4 1600.1,1544.0 1600.1,1552.9 1601.9,1553.7 1603.7,1554.4 1605.4,1555.2 1607.2,1555.9 1609.0,1556.7 1609.0,1526.2 1610.7,1526.2 1612.4,1526.2 1614.1,1526.2 1615.8,1526.2 1617.5,1526.2 1619.2,1526.2 1619.2,1538.9 1620.9,1538.9 1622.6,1538.9 1624.2,1538.9 1625.9,1538.9 1627.6,1538.9 1629.3,1538.9 1631.1,1537.6 1632.9,1536.4 1634.7,1535.1 1636.5,1533.8 1638.2,1532.6 1638.2,1519.8 1640.1,1526.8 1642.0,1533.8 1644.0,1533.5 1645.9,1533.2 1647.8,1532.9 1649.7,1532.6 1649.7,1523.7 1651.6,1523.7 1653.5,1523.7 1655.4,1523.7 1657.3,1523.7 1657.3,1533.8 1658.9,1532.6 1660.6,1531.3 1662.2,1530.0 1663.8,1528.7 1665.5,1527.5 1667.1,1526.2 1668.7,1524.9 1668.7,1509.7 1670.5,1509.4 1672.3,1509.2 1674.1,1508.9 1675.9,1508.7 1677.6,1508.4 1677.6,1518.6 1679.3,1518.1 1681.0,1517.7 1682.7,1517.3 1684.4,1516.9 1686.1,1516.5 1687.8,1516.0 1689.6,1515.8 1691.4,1515.5 1693.2,1515.3 1694.9,1515.0 1696.7,1514.8 1696.7,1532.6 1699.3,1524.9 1701.0,1526.7 1702.8,1528.5 1704.6,1530.3 1706.4,1532.0 1708.2,1533.8 1709.9,1534.3 1711.7,1534.8 1713.5,1535.4 1715.3,1535.9 1717.1,1536.4 1717.1,1540.2 1718.8,1538.1 1720.6,1536.1 1722.4,1534.1 1724.2,1532.0 1725.9,1530.0 1725.9,1542.7 1727.6,1542.5 1729.3,1542.3 1731.0,1542.1 1732.7,1541.9 1734.4,1541.7 1736.1,1541.5 1736.1,1547.8 1737.9,1548.1 1739.7,1548.3 1741.5,1548.6 1743.2,1548.8 1745.0,1549.1 1745.0,1538.9 1747.6,1549.1 1749.5,1548.8 1751.4,1548.4 1753.3,1548.1 1755.2,1547.8 1755.2,1554.2 1756.9,1554.0 1758.6,1553.7 1760.3,1553.5 1762.0,1553.3 1763.7,1553.1 1765.4,1552.9 1765.4,1560.5 1767.1,1559.3 1768.9,1558.0 1770.7,1556.7 1772.5,1555.4 1774.3,1554.2 1776.0,1554.0 1777.6,1553.7 1779.3,1553.5 1781.0,1553.3 1782.7,1553.1 1784.4,1552.9 1784.4,1559.3 1787.0,1551.6 1788.9,1551.9 1790.8,1552.3 1792.7,1552.6 1794.6,1552.9 1794.6,1547.8 1796.4,1549.1 1798.2,1550.4 1799.9,1551.6 1801.7,1552.9 1803.5,1554.2 1803.5,1559.3 1806.0,1552.9 1807.8,1552.9 1809.6,1552.9 1811.4,1552.9 1813.2,1552.9 1814.9,1552.9 1814.9,1541.5 1816.7,1541.7 1818.5,1542.0 1820.3,1542.2 1822.1,1542.5 1823.8,1542.7 1823.8,1531.3 1825.5,1531.1 1827.2,1530.9 1828.9,1530.6 1830.6,1530.4 1832.3,1530.2 1834.0,1530.0 1834.0,1542.7 1835.8,1543.2 1837.6,1543.7 1839.3,1544.3 1841.1,1544.8 1842.9,1545.3 1842.9,1530.0 1844.6,1529.0 1846.3,1527.9 1848.0,1526.8 1849.7,1525.8 1851.4,1524.7 1853.1,1523.7 1853.1,1521.1 1854.8,1522.0 1856.5,1522.8 1858.2,1523.7 1859.9,1524.5 1861.6,1525.4 1863.2,1526.2 1864.9,1525.6 1866.6,1524.9 1868.3,1524.3 1870.0,1523.7 1871.7,1523.0 1873.4,1522.4 1873.4,1498.2 1875.2,1497.5 1877.0,1496.7 1878.8,1495.9 1880.5,1495.2 1882.3,1494.4 1882.3,1486.8 1884.9,1497.0 1886.8,1497.6 1888.7,1498.2 1890.6,1498.9 1892.5,1499.5 1892.5,1507.1 1895.0,1491.9 1896.9,1490.0 1898.8,1488.1 1900.8,1493.1 1902.7,1498.2" stroke="#0030cc"/>
<polyline points="538.5,1826.3 540.3,1830.9 542.1,1835.6 543.9,1840.2 545.7,1844.9 547.9,1861.7 550.2,1878.5 552.4,1925.6 554.7,1939.1 556.4,1932.4 558.0,1925.6 559.9,1922.7 561.8,1919.7 563.7,1916.7 565.3,1925.1 566.9,1909.6 568.5,1927.0 570.1,1902.9 571.7,1927.4 573.3,1908.1 574.9,1926.5 576.5,1909.5 578.1,1928.1 579.7,1902.6 581.3,1927.0 582.9,1907.9 584.5,1923.1 586.1,1908.3 587.7,1928.0 589.3,1901.1 590.9,1922.3 592.5,1908.1 594.1,1929.4 595.7,1906.4 597.3,1927.2 598.9,1904.2 600.6,1920.6 602.2,1900.1 603.8,1925.5 605.5,1901.5 607.1,1923.2 608.7,1901.1 610.4,1923.0 612.0,1901.4 613.6,1922.5 615.3,1899.1 617.1,1919.8 618.8,1902.8 620.6,1923.5 622.4,1907.7 624.2,1924.3 626.0,1908.3 627.8,1924.5 629.6,1914.9 631.4,1928.4 633.2,1922.0 635.0,1932.0 636.8,1932.8 638.6,1936.4 640.4,1940.0 642.2,1943.6 644.0,1948.1 645.8,1952.6 647.6,1957.1 649.4,1961.5 651.2,1966.0 652.8,1970.5 654.5,1975.0 656.2,1979.5 657.9,1984.0 659.7,1988.5 661.5,1993.0 663.3,1997.4 665.1,2001.9 666.9,2006.4 668.7,2009.1 670.5,2011.8 672.2,2014.5 674.0,2017.2 675.8,2019.9 677.4,2022.4 679.0,2025.0 680.6,2027.6 682.2,2030.1 683.9,2032.7 685.5,2035.3 687.1,2037.8 688.7,2040.1 690.4,2042.3 692.1,2044.6 693.8,2046.8 695.5,2049.0 697.2,2051.3 698.8,2053.5 700.5,2055.8 702.2,2057.7 703.9,2059.7 705.6,2061.7 707.2,2063.6 708.9,2065.6 710.6,2067.6 712.3,2069.5 714.0,2071.5 715.6,2072.8 717.2,2074.0 718.8,2075.3 720.4,2076.6 722.0,2077.9 723.6,2079.2 725.2,2080.5 726.8,2082.1 728.4,2083.7 730.0,2085.3 731.6,2086.9 733.2,2088.5 734.8,2090.1 736.4,2091.7 738.2,2094.4 740.0,2097.1 741.8,2099.8 743.6,2102.4 745.4,2105.1 747.2,2107.4 749.0,2109.6 750.8,2111.9 752.6,2114.1 754.4,2116.4 756.0,2118.3 757.6,2120.2 759.2,2122.1 760.8,2124.0 762.4,2126.0 764.0,2127.9 765.6,2129.8 767.2,2131.4 768.8,2133.0 770.4,2134.6 772.0,2136.2 773.6,2137.8 775.2,2139.4 776.8,2141.0 778.4,2142.3 780.0,2143.6 781.6,2144.9 783.2,2146.2 784.8,2147.4 786.4,2148.7 788.0,2150.0 789.6,2151.0 791.2,2151.9 792.8,2152.9 794.4,2153.9 796.0,2154.8 797.6,2155.8 799.2,2156.7 800.9,2156.6 802.6,2156.5 804.3,2156.3 806.0,2156.2 807.7,2156.0 809.3,2155.9 811.0,2155.8 812.7,2155.6 814.5,2156.1 816.3,2156.5 818.1,2157.0 819.9,2157.4 821.7,2157.9 823.5,2157.9 825.3,2157.9 827.1,2157.9 828.9,2157.9 830.7,2157.9 832.4,2157.2 834.2,2156.5 836.0,2155.8 837.8,2155.2 839.6,2154.5 841.4,2155.2 843.2,2155.8 845.0,2156.5 846.8,2157.2 848.6,2157.9 850.8,2160.7 853.1,2163.5 854.9,2162.1 856.7,2160.8 858.5,2159.4 860.3,2158.1 862.1,2156.7 863.9,2155.8 865.7,2154.9 867.4,2154.0 869.2,2153.2 871.0,2152.3 872.8,2150.2 874.6,2148.2 876.4,2146.2 878.2,2144.2 880.0,2142.2 881.8,2142.4 883.6,2142.6 885.4,2142.8 887.2,2143.1 889.0,2143.3 890.8,2143.1 892.6,2142.8 894.4,2142.6 896.2,2142.4 898.0,2142.2 900.0,2134.3 900.9,2133.8 902.6,2133.8 904.3,2133.8 906.0,2133.8 907.7,2133.8 909.4,2133.8 911.0,2132.5 912.6,2131.3 914.2,2130.1 915.8,2128.9 917.4,2127.7 919.1,2126.5 920.7,2125.5 922.3,2124.5 923.9,2123.5 925.5,2122.5 927.1,2121.4 928.7,2120.4 930.4,2118.8 932.0,2117.2 933.6,2115.6 935.2,2114.0 936.8,2112.4 938.4,2110.8 940.0,2109.1 941.7,2107.5 943.3,2105.9 944.9,2104.3 946.5,2102.7 948.1,2101.1 949.7,2099.9 951.3,2098.6 953.0,2097.4 954.6,2096.2 956.2,2095.0 957.8,2093.8 959.4,2092.6 961.0,2091.4 962.6,2090.2 964.3,2089.0 965.9,2087.7 967.5,2086.5 969.1,2085.3 970.7,2084.1 972.3,2082.9 973.9,2081.7 975.6,2080.5 977.2,2079.3 978.8,2076.9 980.4,2074.4 982.0,2072.0 983.6,2069.6 985.2,2067.2 986.9,2064.7 988.5,2063.5 990.2,2062.3 991.9,2061.1 993.6,2059.9 995.3,2058.7 997.0,2059.7 998.7,2060.6 1000.4,2061.6 1002.1,2062.6 1003.8,2063.5 1005.4,2063.3 1007.0,2063.1 1008.6,2062.9 1010.3,2062.7 1011.9,2062.5 1013.5,2062.3 1015.1,2062.7 1016.7,2063.1 1018.3,2063.5 1019.9,2063.9 1021.6,2064.3 1023.2,2064.7 1024.8,2064.9 1026.4,2065.1 1028.0,2065.4 1029.6,2065.6 1031.2,2065.8 1032.9,2066.0 1034.6,2066.6 1036.3,2067.3 1038.0,2068.0 1039.8,2068.7 1041.5,2069.4 1043.2,2070.1 1045.0,2070.8 1046.6,2072.6 1048.2,2074.4 1049.8,2076.2 1051.4,2078.1 1053.0,2079.9 1054.6,2081.7 1056.5,2082.6 1058.3,2083.5 1060.1,2084.4 1061.9,2085.3 1063.5,2084.1 1065.1,2082.9 1066.8,2081.7 1068.6,2082.9 1070.4,2084.1 1072.2,2085.3 1074.0,2086.5 1075.6,2088.6 1077.2,2090.6 1078.9,2092.6 1080.5,2094.6 1082.1,2096.6 1083.7,2098.6 1085.3,2099.9 1086.9,2101.1 1088.5,2102.3 1090.2,2103.5 1091.8,2104.7 1093.4,2105.9 1095.0,2107.5 1096.6,2109.1 1098.2,2110.8 1099.8,2112.4 1101.5,2114.0 1103.1,2115.6 1104.7,2118.0 1106.3,2120.4 1107.9,2122.9 1109.5,2125.3 1111.1,2127.7 1112.8,2130.1 1114.4,2132.5 1116.0,2135.0 1117.6,2137.4 1119.2,2139.8 1120.8,2142.2 1122.4,2144.6 1124.1,2147.9 1125.7,2151.1 1127.3,2154.3 1128.9,2157.6 1130.5,2160.8 1132.1,2164.0 1133.7,2165.6 1135.4,2167.2 1137.0,2168.9 1138.6,2170.5 1140.2,2172.1 1141.8,2173.7 1143.4,2177.3 1145.0,2181.0 1146.7,2184.6 1148.3,2188.2 1149.9,2191.9 1151.5,2195.5 1153.1,2199.1 1154.7,2202.8 1156.3,2206.4 1158.0,2210.0 1159.6,2213.7 1161.2,2217.3 1162.8,2220.9 1164.4,2224.6 1166.0,2228.2 1167.6,2231.8 1169.3,2235.4 1170.9,2239.1 1172.5,2243.1 1174.1,2247.2 1175.7,2251.2 1177.3,2255.2 1178.9,2259.3 1180.6,2263.3 1182.2,2266.9 1183.8,2270.6 1185.4,2274.2 1187.0,2277.8 1188.6,2281.5 1190.2,2285.1 1191.9,2288.7 1193.5,2292.3 1195.1,2296.0 1196.7,2299.6 1198.3,2303.2 1199.9,2306.9 1201.5,2310.1 1203.2,2313.3 1204.8,2316.6 1206.4,2319.8 1208.0,2323.0 1209.6,2326.2 1211.2,2328.3 1212.8,2330.3 1214.5,2332.3 1216.1,2334.3 1217.7,2336.3 1219.3,2338.4 1220.9,2340.0 1222.5,2341.6 1224.1,2343.2 1225.8,2344.8 1227.4,2346.4 1229.0,2348.0 1230.6,2349.7 1232.2,2351.3 1233.8,2352.9 1235.4,2354.5 1237.1,2356.1 1238.7,2357.7 1240.3,2360.1 1241.9,2362.6 1243.5,2365.0 1245.1,2367.4 1246.7,2369.8 1248.4,2372.3 1250.0,2372.7 1251.6,2373.1 1253.2,2373.5 1254.8,2373.9 1256.4,2374.3 1258.0,2374.7 1259.7,2374.5 1261.3,2374.3 1262.9,2374.1 1264.5,2373.9 1266.1,2373.7 1267.7,2373.5 1269.3,2373.7 1271.0,2373.9 1272.6,2374.1 1274.2,2374.3 1275.8,2374.5 1277.4,2374.7 1279.0,2373.7 1280.6,2372.7 1282.3,2371.6 1283.9,2370.6 1285.5,2369.6 1287.1,2368.6 1290.0,2365.0 1291.7,2364.4 1293.4,2363.9 1295.0,2363.3 1296.7,2362.8 1298.4,2362.2 1300.2,2360.9 1302.1,2359.5 1303.9,2358.1 1305.8,2356.7 1307.6,2355.3 1309.4,2353.5 1311.3,2351.7 1313.1,2349.8 1315.0,2348.0 1316.8,2346.1 1318.6,2343.8 1320.5,2341.5 1322.3,2339.2 1324.2,2336.9 1326.0,2334.6 1327.8,2331.4 1329.7,2328.2 1331.5,2325.0 1333.4,2321.8 1335.2,2318.5 1337.1,2317.6 1338.9,2316.7 1340.7,2315.8 1342.6,2314.9 1344.4,2313.9 1346.3,2311.6 1348.1,2309.3 1349.9,2307.0 1351.8,2304.7 1353.6,2302.4 1355.5,2299.2 1357.3,2296.0 1359.1,2292.8 1361.0,2289.6 1362.8,2286.3 1364.7,2285.0 1366.5,2283.6 1368.3,2282.2 1370.2,2280.8 1372.0,2279.4 1373.9,2277.1 1375.7,2274.8 1377.5,2272.5 1379.4,2270.2 1381.2,2267.9 1383.1,2264.3 1384.9,2260.6 1386.7,2256.9 1388.6,2253.2 1390.4,2249.5 1392.3,2245.8 1394.1,2242.2 1395.9,2238.5 1397.8,2234.8 1399.6,2231.1 1401.5,2228.8 1403.3,2226.5 1405.1,2224.2 1407.0,2221.9 1408.8,2219.6 1410.7,2215.9 1412.5,2212.3 1414.3,2208.6 1416.2,2204.9 1418.0,2201.2 1419.9,2199.4 1421.7,2197.5 1423.5,2195.7 1425.4,2193.9 1427.2,2192.0 1429.1,2189.5 1430.9,2187.0 1432.7,2184.4 1434.6,2181.9 1436.4,2179.4 1438.3,2178.9 1440.1,2178.4 1442.0,2178.0 1443.8,2177.5 1445.6,2177.1 1447.5,2177.5 1449.3,2178.0 1451.2,2178.4 1453.0,2178.9 1454.8,2179.4 1456.7,2179.8 1458.5,2180.3 1460.4,2180.7 1462.2,2181.2 1464.0,2181.7 1465.7,2182.0 1467.3,2182.3 1469.0,2182.7 1470.6,2183.0 1472.3,2183.3 1473.9,2183.6 1475.5,2184.0 1477.4,2183.7 1479.2,2183.5 1481.1,2183.3 1482.9,2183.0 1484.7,2182.8 1486.5,2184.5 1488.2,2186.3 1489.9,2188.0 1491.6,2189.7 1493.5,2189.9 1495.3,2190.2 1497.2,2190.4 1499.0,2190.6 1500.8,2190.9 1502.7,2191.6 1504.5,2192.2 1506.4,2192.9 1508.2,2193.6 1510.0,2194.3 1512.3,2197.8 1514.6,2201.2 1516.4,2201.5 1518.1,2201.8 1519.8,2202.1 1521.5,2202.4 1523.8,2212.7 1525.7,2213.2 1527.5,2213.6 1529.4,2214.1 1531.2,2214.6 1533.0,2215.0 1535.3,2225.4 1537.1,2225.7 1538.8,2225.9 1540.5,2226.2 1542.2,2226.5 1544.6,2236.9 1546.3,2237.2 1548.0,2237.5 1549.7,2237.7 1551.5,2238.0 1553.8,2247.2 1555.5,2247.2 1557.2,2247.2 1558.9,2247.2 1560.7,2247.2 1563.0,2254.1 1564.7,2254.7 1566.4,2255.3 1568.1,2255.9 1569.9,2256.4 1572.2,2263.3 1573.9,2263.6 1575.6,2263.9 1577.3,2264.2 1579.1,2264.5 1581.4,2267.9 1583.2,2267.9 1585.0,2267.9 1586.9,2267.9 1588.7,2267.9 1590.6,2267.9 1592.9,2276.0 1594.6,2276.3 1596.3,2276.6 1598.0,2276.8 1599.8,2277.1 1602.1,2286.3 1603.8,2286.9 1605.5,2287.5 1607.2,2288.1 1609.0,2288.6 1611.3,2295.5 1613.0,2295.8 1614.7,2296.1 1616.4,2296.4 1618.2,2296.7 1620.5,2305.9 1622.3,2306.6 1624.1,2307.3 1626.0,2308.0 1627.8,2308.6 1629.7,2309.3 1631.5,2309.8 1633.3,2310.3 1635.2,2310.7 1637.0,2311.2 1638.9,2311.6 1640.7,2311.4 1642.5,2311.2 1644.4,2311.0 1646.2,2310.7 1648.1,2310.5 1650.4,2312.8 1652.7,2315.1 1654.5,2316.0 1656.4,2316.8 1658.2,2317.7 1660.0,2318.5 1660.6,2319.7 1662.3,2320.0 1664.0,2320.3 1665.7,2320.5 1667.5,2320.8 1669.3,2320.8 1671.1,2320.8 1673.0,2320.8 1674.8,2320.8 1676.6,2320.8 1678.3,2323.1 1680.0,2325.4 1681.8,2325.1 1683.5,2324.8 1685.2,2324.5 1686.9,2324.3 1689.2,2319.7 1690.8,2319.5 1692.4,2319.2 1694.0,2319.0 1695.6,2318.8 1697.2,2318.5 1697.2,2315.1 1699.0,2314.9 1700.9,2314.6 1702.7,2314.4 1704.5,2314.2 1706.4,2314.0 1708.2,2313.7 1710.0,2313.5 1711.9,2313.3 1713.7,2313.0 1715.5,2312.8 1717.8,2305.9 1719.4,2305.7 1721.0,2305.5 1722.6,2305.3 1724.2,2305.0 1725.8,2304.8 1728.1,2302.5 1729.8,2302.3 1731.5,2302.1 1733.2,2301.9 1735.0,2301.8 1736.7,2301.6 1738.4,2301.4 1740.2,2300.0 1742.1,2298.6 1743.9,2297.3 1745.7,2295.9 1747.6,2294.5 1749.4,2292.2 1751.2,2289.9 1753.0,2287.6 1754.9,2285.4 1756.7,2283.1 1758.3,2282.8 1759.9,2282.6 1761.5,2282.4 1763.1,2282.2 1764.7,2281.9 1766.4,2280.2 1768.1,2278.5 1770.0,2278.0 1771.8,2277.6 1773.6,2277.1 1775.5,2276.7 1777.3,2276.2 1779.1,2276.9 1781.0,2277.6 1782.8,2278.3 1784.6,2278.9 1786.5,2279.6 1788.3,2279.9 1790.1,2280.1 1791.9,2280.3 1793.8,2280.5 1795.6,2280.8 1797.9,2282.5 1800.2,2284.2 1802.1,2285.4 1804.0,2286.5 1805.9,2287.6 1807.5,2287.0 1809.1,2286.3 1810.7,2285.6 1812.3,2284.9 1813.9,2284.2 1815.5,2284.4 1817.2,2284.5 1818.8,2284.7 1820.5,2284.9 1822.1,2285.0 1823.7,2285.2 1825.4,2285.4 1825.4,2292.2 1827.0,2292.2 1828.6,2292.2 1830.3,2292.2 1831.9,2292.2 1833.5,2292.2 1835.2,2292.2 1836.8,2292.2 1838.5,2292.8 1840.2,2293.4 1841.9,2293.9 1843.7,2294.5 1845.5,2295.0 1847.3,2295.4 1849.2,2295.9 1851.0,2296.3 1852.8,2296.8 1852.8,2305.9 1854.4,2306.2 1856.0,2306.4 1857.6,2306.6 1859.2,2306.9 1860.8,2307.1 1863.1,2312.8 1864.9,2313.0 1866.8,2313.3 1868.6,2313.5 1870.4,2313.7 1872.3,2314.0 1872.3,2324.3 1874.0,2324.4 1875.7,2324.6 1877.4,2324.8 1879.1,2325.0 1880.8,2325.2 1882.6,2325.4 1882.6,2340.3 1884.4,2340.5 1886.2,2340.7 1888.1,2341.0 1889.9,2341.2 1891.7,2341.4 1894.0,2347.1 1896.3,2349.4 1898.6,2351.7 1900.3,2352.3 1902.0,2352.9" stroke="#0030cc"/>
<polyline points="538.5,1826.1 547.0,1743.7 552.6,1681.4 557.9,1626.7 561.1,1634.3 567.7,1637.1 579.0,1636.2 592.2,1630.5 601.7,1632.4 611.1,1636.2 622.4,1638.1 631.8,1647.5 640.3,1650.3 646.9,1662.6 652.6,1683.3 660.1,1696.5 664.8,1709.7 671.4,1726.7 679.0,1732.3 680.9,1724.8 686.5,1728.6 692.2,1739.9 697.8,1747.4 703.5,1751.2 706.9,1748.1 710.4,1751.5 714.0,1747.2 717.5,1756.3 721.0,1745.0 724.5,1755.2 728.0,1750.7 731.5,1749.4 735.0,1748.4 738.5,1742.6 742.0,1746.2 745.5,1748.4 749.0,1744.0 752.5,1739.2 756.0,1746.5 759.5,1744.8 763.0,1740.8 766.5,1745.3 770.0,1752.5 773.5,1734.9 777.0,1736.2 780.6,1755.8 784.1,1746.8 787.6,1744.8 791.1,1742.4 794.6,1744.0 798.1,1748.5 801.6,1752.3 805.1,1747.1 808.6,1742.9 812.1,1758.1 815.6,1757.6 819.1,1748.5 822.6,1766.5 826.1,1751.0 829.6,1752.8 833.1,1744.6 836.6,1755.3 840.1,1757.0 843.6,1752.4 847.2,1749.2 850.7,1754.9 854.2,1748.6 857.7,1741.7 861.2,1737.7 864.7,1732.8 868.2,1756.0 871.7,1752.6 875.2,1771.8 878.7,1731.0 882.2,1755.4 885.7,1749.0 889.2,1743.8 892.7,1761.3 896.2,1744.3 899.7,1748.9 903.2,1765.7 906.7,1745.9 910.2,1737.5 913.8,1766.1 917.3,1741.1 920.8,1746.7 924.3,1744.2 927.8,1744.5 931.3,1736.5 934.8,1750.8 938.3,1740.6 941.8,1752.6 945.3,1742.0 948.8,1756.4 952.3,1749.9 955.8,1732.8 959.3,1744.8 962.8,1750.5 966.3,1759.7 969.8,1756.4 973.3,1747.3 976.8,1740.4 980.3,1745.2 983.9,1744.3 987.4,1749.6 990.9,1736.7 994.4,1753.0 997.9,1754.5 1001.4,1741.1 1004.9,1748.8 1008.4,1752.1 1011.9,1754.9 1015.4,1751.9 1018.9,1743.8 1022.4,1746.3 1025.9,1760.9 1029.4,1745.7 1032.9,1748.1 1036.4,1759.1 1039.9,1742.6 1043.4,1752.5 1046.9,1753.0 1050.5,1742.5 1054.0,1737.6 1057.5,1756.4 1061.0,1745.9 1064.5,1758.2 1068.0,1728.5 1071.5,1754.7 1075.0,1739.0 1078.5,1756.2 1082.0,1742.7 1085.5,1729.6 1089.0,1774.0 1092.5,1754.4 1096.0,1745.7 1099.5,1751.3 1103.0,1756.7 1106.5,1730.4 1110.0,1749.8 1113.5,1765.9 1117.1,1742.7 1120.6,1766.7 1124.1,1739.9 1127.6,1756.1 1131.1,1749.3 1134.6,1738.9 1138.1,1749.6 1141.6,1763.6 1145.1,1766.4 1148.6,1739.6 1152.1,1743.7 1155.6,1758.2 1159.1,1742.6 1162.6,1746.0 1166.1,1744.6 1169.6,1771.7 1173.1,1754.3 1176.6,1744.7 1180.1,1747.9 1183.7,1748.2 1187.2,1781.0 1190.7,1758.2 1194.2,1756.6 1197.7,1738.8 1201.2,1772.9 1204.7,1768.5 1208.2,1766.4 1211.7,1759.9 1215.2,1773.7 1218.7,1760.3 1222.2,1779.3 1225.7,1770.1 1229.2,1778.2 1232.7,1772.4 1236.2,1781.0 1239.7,1790.1 1243.2,1765.7 1246.7,1773.7 1250.3,1782.4 1253.8,1776.0 1257.3,1769.3 1260.8,1788.3 1264.3,1780.9 1267.8,1775.5 1271.3,1776.0 1274.8,1784.2 1278.3,1800.8 1281.8,1769.8 1285.3,1778.5 1288.8,1781.6 1292.3,1784.4 1295.8,1779.6 1299.3,1786.1 1302.8,1791.9 1306.3,1789.4 1309.8,1788.2 1313.3,1788.5 1316.8,1793.8 1320.4,1777.1 1323.9,1795.2 1327.4,1776.9 1330.9,1792.5 1334.4,1779.7 1337.9,1770.2 1341.4,1781.1 1344.9,1789.8 1348.4,1782.5 1351.9,1781.6 1355.4,1799.1 1358.9,1788.6 1362.4,1781.4 1365.9,1787.3 1369.4,1782.0 1372.9,1775.8 1376.4,1775.3 1379.9,1773.8 1383.4,1776.6 1387.0,1784.6 1390.5,1781.9 1394.0,1784.1 1397.5,1784.3 1401.0,1782.9 1404.5,1797.1 1408.0,1784.0 1411.5,1780.9 1415.0,1789.6 1418.5,1780.6 1422.0,1775.4 1425.5,1781.5 1429.0,1760.5 1432.5,1804.0 1436.0,1781.4 1439.5,1796.3 1443.0,1770.0 1446.5,1754.2 1450.0,1802.1 1453.6,1777.4 1457.1,1773.6 1460.6,1781.1 1464.1,1773.0 1467.6,1798.8 1471.1,1769.8 1474.6,1774.1 1478.1,1777.2 1481.6,1782.7 1485.1,1771.1 1488.6,1781.4 1492.1,1774.7 1495.6,1781.3 1499.1,1797.3 1502.6,1776.5 1506.1,1774.2 1509.6,1768.8 1513.1,1784.0 1516.6,1776.6 1520.2,1770.9 1523.7,1770.9 1523.7,1776.1 1525.2,1787.5 1526.7,1776.1 1534.4,1776.1 1534.4,1772.4 1535.9,1761.3 1537.4,1772.4 1544.1,1772.4 1544.1,1768.9 1554.8,1768.9 1554.8,1789.5 1563.6,1789.5 1563.6,1785.0 1574.3,1785.0 1574.3,1783.7 1584.0,1783.7 1584.0,1791.1 1593.8,1791.1 1593.8,1786.9 1595.3,1778.5 1596.8,1786.9 1603.5,1786.9 1603.5,1784.2 1613.2,1784.2 1613.2,1789.3 1614.7,1800.2 1616.2,1789.3 1623.9,1789.3 1623.9,1801.5 1633.7,1801.5 1633.7,1788.8 1635.2,1782.6 1636.7,1788.8 1642.4,1788.8 1642.4,1795.6 1652.2,1795.6 1652.2,1789.9 1653.7,1800.6 1655.2,1789.9 1661.9,1789.9 1661.9,1792.5 1672.6,1792.5 1672.6,1797.0 1682.4,1797.0 1682.4,1797.7 1691.1,1797.7 1691.1,1808.8 1701.8,1808.8 1701.8,1811.6 1710.6,1811.6 1710.6,1788.9 1721.3,1788.9 1721.3,1795.9 1732.0,1795.9 1732.0,1799.4 1733.5,1790.2 1735.0,1799.4 1741.8,1799.4 1741.8,1783.8 1743.3,1777.7 1744.8,1783.8 1751.5,1783.8 1751.5,1795.3 1762.2,1795.3 1762.2,1793.6 1771.9,1793.6 1771.9,1798.8 1782.7,1798.8 1782.7,1795.4 1791.4,1795.4 1791.4,1799.8 1800.2,1799.8 1800.2,1788.3 1810.9,1788.3 1810.9,1780.5 1819.7,1780.5 1819.7,1767.4 1821.2,1779.1 1822.7,1767.4 1829.4,1767.4 1829.4,1792.3 1839.1,1792.3 1839.1,1790.3 1848.9,1790.3 1848.9,1772.2 1850.4,1759.5 1851.9,1772.2 1858.6,1772.2 1858.6,1774.2 1868.3,1774.2 1868.3,1776.7 1879.0,1776.7 1879.0,1773.5 1889.8,1773.5 1889.8,1789.2 1891.3,1779.7 1892.8,1789.2 1899.5,1789.2 1899.5,1779.9 1901.6,1779.9" stroke="#000000"/>
<polyline points="538.5,1826.1 544.1,1841.7 548.9,1860.6 552.6,1834.2 556.4,1813.4 561.1,1809.7 567.7,1807.8 573.4,1810.6 577.8,1809.3 582.2,1808.1 586.6,1806.8 594.1,1804.0 601.7,1805.9 606.4,1808.2 611.1,1810.6 616.7,1810.6 622.4,1810.6 629.9,1803.1 637.5,1794.6 645.0,1798.3 652.6,1790.8 657.3,1783.3 662.0,1775.7 666.4,1771.9 670.8,1768.2 675.2,1764.4 680.9,1753.1 686.5,1747.4 691.2,1747.0 695.9,1746.5 702.5,1738.0 707.3,1723.0 709.1,1728.6 713.9,1723.1 718.6,1720.9 723.3,1717.2 728.0,1715.2 732.7,1705.7 737.0,1700.5 741.2,1693.3 746.9,1676.5 753.5,1687.4 759.1,1683.8 765.7,1663.4 770.4,1656.0 775.1,1647.5 779.9,1648.9 784.6,1648.9 792.1,1636.1 796.8,1636.3 801.5,1640.6 809.1,1629.1 816.6,1621.1 824.2,1616.2 830.0,1613.1 834.8,1612.1 839.6,1606.7 844.0,1607.9 848.3,1609.7 853.8,1603.6 859.2,1597.4 864.7,1601.8 870.1,1602.9 874.5,1601.1 878.8,1603.5 883.2,1605.5 887.6,1609.0 891.9,1611.9 897.4,1614.5 902.8,1614.8 909.3,1606.8 914.8,1611.5 920.2,1613.6 924.6,1623.1 929.0,1632.2 933.3,1626.7 937.7,1622.5 942.0,1629.5 946.4,1642.7 952.9,1650.5 960.6,1642.1 965.5,1653.8 970.4,1663.3 974.7,1666.0 979.1,1663.4 983.4,1662.5 987.8,1672.2 992.2,1684.1 997.6,1668.9 1002.5,1676.7 1007.4,1684.5 1012.9,1686.7 1018.3,1693.0 1023.7,1688.3 1029.2,1684.4 1035.7,1691.2 1042.3,1677.7 1046.6,1682.4 1051.0,1686.1 1055.3,1691.7 1059.7,1701.3 1065.2,1699.1 1070.6,1698.6 1076.0,1698.9 1081.5,1700.3 1086.9,1698.0 1092.4,1693.8 1097.8,1701.0 1103.3,1710.0 1109.8,1696.9 1115.3,1694.1 1120.7,1690.2 1125.1,1689.9 1129.4,1689.7 1134.9,1676.4 1140.3,1662.2 1144.7,1660.8 1149.0,1657.5 1155.6,1644.9 1162.1,1646.3 1166.5,1633.2 1170.8,1619.3 1175.4,1607.9 1180.0,1597.4 1182.8,1608.4 1188.7,1590.3 1193.3,1573.4 1199.2,1568.0 1205.0,1560.6 1210.9,1563.1 1216.7,1562.8 1223.7,1530.1 1229.5,1530.8 1235.4,1528.0 1240.0,1518.8 1244.7,1506.5 1251.7,1508.1 1258.7,1488.3 1264.6,1483.1 1270.4,1481.2 1276.2,1483.5 1280.9,1465.2 1285.0,1466.5 1289.1,1469.8 1293.2,1476.1 1297.2,1476.3 1301.3,1466.9 1305.4,1453.6 1310.1,1453.4 1314.8,1451.2 1321.8,1464.9 1326.4,1457.7 1331.1,1453.9 1338.1,1474.7 1342.8,1467.2 1347.4,1461.1 1352.1,1472.4 1356.8,1480.3 1361.5,1484.4 1366.1,1487.9 1370.8,1505.2 1375.5,1514.8 1380.1,1521.1 1384.8,1527.7 1389.5,1535.3 1394.1,1541.9 1398.8,1549.7 1403.5,1552.0 1408.2,1560.6 1415.2,1566.6 1419.8,1585.1 1424.5,1583.9 1429.2,1587.1 1436.2,1595.5 1443.2,1603.3 1447.8,1618.4 1454.8,1611.6 1461.9,1619.4 1468.9,1609.5 1473.5,1607.3 1478.2,1606.9 1485.2,1613.2 1492.2,1607.5 1496.9,1602.8 1501.5,1602.8 1506.2,1598.5 1510.9,1595.3 1515.6,1592.5 1520.2,1590.1 1524.9,1579.6 1530.0,1578.5 1532.7,1575.8 1537.8,1573.9 1542.9,1572.0 1550.5,1570.7 1553.1,1560.5 1557.5,1559.3 1562.0,1558.0 1566.4,1556.7 1570.9,1555.4 1570.9,1542.7 1578.5,1540.2 1578.5,1527.5 1582.7,1527.9 1587.0,1528.3 1591.2,1528.7 1598.8,1522.4 1598.8,1517.3 1603.9,1521.1 1609.0,1524.9 1609.0,1502.0 1613.4,1502.0 1617.9,1502.0 1622.3,1502.0 1626.8,1502.0 1629.3,1489.3 1634.4,1486.2 1639.5,1483.0 1644.6,1484.2 1649.7,1485.5 1649.7,1477.9 1654.8,1480.4 1659.8,1483.0 1667.5,1480.4 1667.5,1470.3 1672.6,1469.6 1677.6,1469.0 1677.6,1484.2 1682.7,1480.4 1687.8,1476.6 1687.8,1491.9 1690.4,1479.2 1698.0,1477.9 1700.5,1483.0 1706.9,1483.0 1706.9,1498.2 1712.0,1497.6 1717.1,1497.0 1717.1,1486.8 1722.1,1486.8 1727.2,1486.8 1727.2,1494.4 1731.7,1494.4 1736.1,1494.4 1736.1,1504.6 1740.6,1504.0 1745.0,1503.3 1745.0,1509.7 1750.1,1509.7 1755.2,1509.7 1755.2,1526.2 1759.6,1525.6 1764.1,1524.9 1764.1,1518.6 1769.2,1519.2 1774.3,1519.8 1776.8,1532.6 1784.4,1533.8 1784.4,1540.2 1789.5,1538.9 1794.6,1537.6 1794.6,1530.0 1802.2,1532.6 1807.3,1542.7 1807.3,1535.1 1814.9,1536.4 1814.9,1547.8 1820.0,1547.2 1825.1,1546.5 1829.6,1547.2 1834.0,1547.8 1838.5,1547.8 1842.9,1547.8 1847.4,1552.3 1851.8,1556.7 1851.8,1546.5 1857.5,1547.2 1863.2,1547.8 1863.2,1559.3 1868.3,1557.3 1873.4,1555.4 1877.9,1558.6 1882.3,1561.8 1886.1,1555.4 1891.9,1552.9 1897.6,1550.4 1902.7,1563.1" stroke="#000000"/>
<polyline points="538.5,1826.3 543.5,1867.3 549.1,1903.2 552.4,1898.7 556.9,1896.5 560.3,1905.5 560.3,1916.7 574.9,1916.7 597.3,1914.4 615.3,1911.1 624.2,1912.2 633.2,1917.8 642.2,1932.4 651.2,1957.1 659.0,1979.5 666.9,2013.1 675.8,2033.3 687.1,2051.3 698.3,2067.0 709.5,2080.5 720.7,2087.2 731.9,2100.7 743.1,2111.9 754.4,2125.3 765.6,2136.5 776.8,2147.8 788.0,2156.7 799.2,2174.7 808.2,2173.6 819.4,2183.7 828.4,2185.9 839.6,2201.6 844.1,2206.1 855.3,2207.2 864.3,2209.5 875.5,2206.1 889.0,2202.7 900.0,2197.1 902.1,2193.1 914.2,2185.8 926.3,2184.6 938.4,2172.5 948.1,2174.9 957.8,2164.0 967.5,2154.3 977.2,2145.9 986.9,2144.6 996.5,2131.3 1015.9,2130.6 1025.6,2122.9 1035.3,2115.6 1045.0,2114.4 1054.6,2116.8 1064.3,2109.5 1074.0,2104.7 1091.0,2101.1 1100.7,2105.9 1115.2,2107.1 1124.9,2120.4 1137.0,2127.7 1146.7,2147.1 1156.3,2161.6 1166.0,2178.5 1178.1,2195.5 1187.8,2214.9 1197.5,2231.8 1207.2,2246.3 1216.9,2260.9 1226.6,2277.8 1236.2,2294.8 1245.9,2306.9 1255.6,2319.0 1265.3,2335.9 1275.0,2350.5 1284.7,2360.1 1290.0,2362.6 1300.7,2357.6 1309.9,2366.9 1316.8,2373.8 1326.0,2371.5 1337.5,2372.6 1346.7,2362.2 1355.9,2350.7 1365.1,2336.9 1374.3,2325.4 1381.2,2309.3 1388.1,2290.9 1397.3,2274.8 1406.5,2261.0 1415.7,2247.2 1424.9,2238.0 1431.8,2234.6 1441.0,2228.8 1450.2,2219.6 1459.4,2215.0 1468.6,2210.4 1482.4,2210.4 1489.3,2213.9 1498.5,2215.0 1505.4,2218.5 1512.3,2221.9 1514.6,2230.0 1521.5,2231.1 1523.8,2238.0 1533.0,2240.3 1533.0,2244.9 1541.1,2246.1 1543.4,2251.8 1550.3,2254.1 1552.6,2261.0 1559.5,2263.3 1561.8,2270.2 1569.9,2272.5 1572.2,2282.9 1579.1,2284.0 1581.4,2296.7 1590.6,2300.1 1592.9,2307.0 1600.9,2309.3 1600.9,2317.4 1611.3,2322.0 1620.5,2327.7 1629.7,2332.3 1638.9,2334.6 1641.2,2341.5 1648.1,2343.8 1650.4,2349.6 1660.0,2349.6 1667.5,2354.0 1676.6,2355.1 1678.9,2358.6 1689.2,2362.0 1697.2,2359.7 1706.4,2358.6 1715.5,2356.3 1717.8,2352.9 1727.0,2351.7 1727.0,2347.1 1736.1,2346.0 1736.1,2335.7 1745.3,2334.6 1747.6,2330.0 1755.6,2328.8 1755.6,2322.0 1764.7,2319.7 1764.7,2315.1 1775.0,2314.0 1784.2,2311.7 1786.5,2301.4 1795.6,2300.2 1804.8,2299.1 1807.0,2295.7 1813.9,2294.5 1823.1,2292.2 1832.2,2289.9 1834.5,2284.2 1850.5,2283.1 1854.0,2272.8 1864.3,2271.6 1878.0,2270.5 1883.7,2272.8 1891.7,2270.5 1898.6,2270.5 1902.0,2272.8" stroke="#000000"/>
<polyline points="538.5,1826.1 548.3,1743.7 553.6,1734.2 557.9,1653.1 562.1,1635.2 567.7,1638.1 579.0,1637.1 592.2,1632.4 601.7,1630.5 611.1,1635.2 620.5,1639.9 631.8,1647.5 641.3,1651.3 646.0,1668.2 650.7,1690.9 655.4,1704.1 662.0,1721.0 669.5,1715.4 679.0,1719.1 684.6,1724.8 690.3,1738.0 694.1,1744.6 699.7,1751.2 703.5,1754.0 706.9,1749.7 710.4,1754.8 714.0,1754.9 717.5,1752.2 721.0,1748.0 724.5,1747.0 728.0,1742.5 731.5,1742.7 735.0,1739.9 738.5,1735.7 742.0,1747.0 745.5,1747.7 749.0,1742.3 752.5,1741.5 756.0,1744.9 759.5,1746.2 763.0,1737.8 766.5,1744.0 770.0,1746.4 773.5,1749.7 777.0,1741.1 780.6,1748.2 784.1,1751.6 787.6,1755.1 791.1,1746.8 794.6,1754.6 798.1,1750.0 801.6,1745.2 805.1,1747.4 808.6,1746.7 812.1,1728.6 815.6,1754.7 819.1,1748.3 822.6,1752.6 826.1,1748.6 829.6,1762.1 833.1,1753.9 836.6,1748.2 840.1,1745.4 843.6,1761.9 847.2,1751.3 850.7,1740.8 854.2,1749.6 857.7,1740.3 861.2,1746.3 864.7,1750.2 868.2,1747.7 871.7,1769.4 875.2,1747.4 878.7,1761.5 882.2,1756.5 885.7,1747.8 889.2,1749.4 892.7,1765.4 896.2,1737.9 899.7,1746.7 903.2,1740.4 906.7,1742.9 910.2,1737.4 913.8,1745.4 917.3,1752.8 920.8,1766.0 924.3,1755.8 927.8,1752.4 931.3,1759.4 934.8,1744.6 938.3,1752.8 941.8,1734.0 945.3,1741.0 948.8,1746.3 952.3,1737.4 955.8,1741.2 959.3,1738.2 962.8,1771.0 966.3,1769.0 969.8,1762.3 973.3,1761.7 976.8,1750.7 980.3,1740.3 983.9,1735.2 987.4,1743.4 990.9,1752.3 994.4,1738.6 997.9,1730.8 1001.4,1748.7 1004.9,1760.6 1008.4,1738.0 1011.9,1750.6 1015.4,1743.4 1018.9,1745.0 1022.4,1732.4 1025.9,1738.1 1029.4,1738.2 1032.9,1759.9 1036.4,1762.1 1039.9,1744.0 1043.4,1755.8 1046.9,1744.7 1050.5,1760.9 1054.0,1745.3 1057.5,1737.9 1061.0,1727.2 1064.5,1765.8 1068.0,1767.0 1071.5,1741.9 1075.0,1741.8 1078.5,1755.5 1082.0,1762.6 1085.5,1738.8 1089.0,1748.3 1092.5,1769.5 1096.0,1753.5 1099.5,1762.3 1103.0,1747.4 1106.5,1755.7 1110.0,1741.8 1113.5,1753.9 1117.1,1757.9 1120.6,1750.3 1124.1,1742.9 1127.6,1760.3 1131.1,1762.5 1134.6,1758.6 1138.1,1751.6 1141.6,1750.8 1145.1,1768.7 1148.6,1762.3 1152.1,1761.3 1155.6,1736.5 1159.1,1753.6 1162.6,1758.2 1166.1,1756.5 1169.6,1749.3 1173.1,1728.9 1176.6,1755.1 1180.1,1732.3 1183.7,1751.6 1187.2,1759.0 1190.7,1763.9 1194.2,1767.1 1197.7,1760.2 1201.2,1760.4 1204.7,1768.6 1208.2,1760.1 1211.7,1769.6 1215.2,1765.9 1218.7,1765.3 1222.2,1776.7 1225.7,1765.5 1229.2,1780.9 1232.7,1756.4 1236.2,1773.9 1239.7,1782.1 1243.2,1774.1 1246.7,1769.6 1250.3,1779.0 1253.8,1771.6 1257.3,1778.4 1260.8,1780.1 1264.3,1781.7 1267.8,1780.5 1271.3,1763.5 1274.8,1785.6 1278.3,1793.8 1281.8,1797.1 1285.3,1802.2 1288.8,1791.7 1292.3,1798.9 1295.8,1769.7 1299.3,1795.8 1302.8,1791.2 1306.3,1788.0 1309.8,1780.8 1313.3,1777.7 1316.8,1792.9 1320.4,1779.8 1323.9,1792.2 1327.4,1809.8 1330.9,1783.3 1334.4,1771.0 1337.9,1785.6 1341.4,1791.2 1344.9,1775.3 1348.4,1795.8 1351.9,1758.7 1355.4,1780.8 1358.9,1802.6 1362.4,1786.1 1365.9,1764.9 1369.4,1803.2 1372.9,1784.5 1376.4,1781.8 1379.9,1769.5 1383.4,1807.5 1387.0,1775.3 1390.5,1776.7 1394.0,1778.5 1397.5,1762.5 1401.0,1774.1 1404.5,1784.6 1408.0,1796.3 1411.5,1761.5 1415.0,1789.9 1418.5,1779.1 1422.0,1783.5 1425.5,1780.7 1429.0,1777.6 1432.5,1792.6 1436.0,1789.0 1439.5,1767.6 1443.0,1807.6 1446.5,1772.5 1450.0,1775.4 1453.6,1769.5 1457.1,1765.8 1460.6,1785.6 1464.1,1789.2 1467.6,1787.8 1471.1,1779.0 1474.6,1769.6 1478.1,1775.1 1481.6,1777.0 1485.1,1766.9 1488.6,1784.7 1492.1,1783.5 1495.6,1788.6 1499.1,1771.4 1502.6,1772.3 1506.1,1795.9 1509.6,1763.5 1513.1,1747.6 1516.6,1783.1 1520.2,1768.4 1523.7,1768.4 1523.7,1781.0 1525.2,1768.5 1526.7,1781.0 1533.4,1781.0 1533.4,1789.8 1534.9,1781.0 1536.4,1789.8 1544.1,1789.8 1544.1,1781.3 1553.8,1781.3 1553.8,1784.3 1564.5,1784.3 1564.5,1797.0 1574.3,1797.0 1574.3,1789.5 1585.0,1789.5 1585.0,1784.1 1595.7,1784.1 1595.7,1781.7 1605.4,1781.7 1605.4,1794.6 1615.2,1794.6 1615.2,1803.6 1624.9,1803.6 1624.9,1796.4 1626.4,1809.3 1627.9,1796.4 1633.7,1796.4 1633.7,1790.7 1643.4,1790.7 1643.4,1795.0 1653.2,1795.0 1653.2,1801.6 1654.7,1790.3 1656.2,1801.6 1662.9,1801.6 1662.9,1802.5 1672.6,1802.5 1672.6,1799.3 1682.4,1799.3 1682.4,1806.1 1683.9,1818.4 1685.4,1806.1 1692.1,1806.1 1692.1,1811.2 1700.9,1811.2 1700.9,1810.2 1710.6,1810.2 1710.6,1799.8 1721.3,1799.8 1721.3,1791.8 1730.1,1791.8 1730.1,1806.1 1731.6,1796.3 1733.1,1806.1 1738.8,1806.1 1738.8,1801.7 1748.6,1801.7 1748.6,1800.3 1750.1,1793.0 1751.6,1800.3 1758.3,1800.3 1758.3,1802.5 1769.0,1802.5 1769.0,1802.7 1779.7,1802.7 1779.7,1806.0 1788.5,1806.0 1788.5,1790.4 1797.3,1790.4 1797.3,1785.9 1807.0,1785.9 1807.0,1789.4 1816.7,1789.4 1816.7,1791.9 1818.2,1802.9 1819.7,1791.9 1826.5,1791.9 1826.5,1779.0 1836.2,1779.0 1836.2,1780.3 1845.9,1780.3 1845.9,1792.4 1855.7,1792.4 1855.7,1779.1 1866.4,1779.1 1866.4,1788.6 1876.1,1788.6 1876.1,1775.1 1886.8,1775.1 1886.8,1776.0 1896.6,1776.0 1896.6,1781.7 1898.1,1769.4 1899.6,1781.7 1901.6,1781.7" stroke="#006400"/>
<polyline points="538.5,1826.1 544.1,1841.7 548.9,1860.6 552.6,1834.2 556.4,1813.4 561.1,1810.6 567.7,1806.8 573.4,1811.5 577.8,1810.3 582.2,1809.0 586.6,1807.8 594.1,1804.0 601.7,1806.8 606.4,1809.2 611.1,1811.5 616.7,1811.5 622.4,1811.5 629.9,1804.0 637.5,1796.5 643.1,1792.7 647.4,1799.8 651.6,1806.8 655.9,1797.9 660.1,1788.9 664.8,1782.3 669.5,1775.7 674.3,1770.1 679.0,1764.4 684.2,1759.7 689.3,1755.0 694.1,1753.1 698.8,1751.2 704.4,1756.7 709.1,1740.1 713.9,1727.5 718.6,1721.0 723.3,1713.6 729.9,1702.0 735.5,1704.7 743.1,1693.0 747.8,1686.0 752.5,1674.2 756.3,1663.6 761.9,1662.3 767.6,1662.3 772.3,1635.8 777.0,1626.6 781.7,1619.0 786.5,1632.4 792.1,1614.3 797.8,1622.1 804.4,1603.4 811.0,1609.9 815.7,1596.0 823.2,1591.6 830.0,1591.5 833.1,1592.1 839.6,1599.7 845.1,1587.2 850.5,1574.8 856.0,1579.3 861.4,1581.8 865.8,1594.0 870.1,1601.8 875.6,1581.8 880.5,1589.0 885.4,1596.2 890.8,1599.0 896.3,1600.4 901.7,1607.5 907.2,1615.8 911.5,1616.1 915.9,1620.2 920.2,1627.4 924.6,1633.7 929.0,1639.0 933.3,1644.4 937.7,1647.4 942.0,1646.9 946.4,1645.8 950.7,1651.9 955.1,1659.5 959.5,1671.8 963.8,1679.4 968.2,1677.3 972.5,1678.0 979.1,1694.4 984.5,1697.3 990.0,1698.5 995.4,1709.4 1000.9,1716.1 1007.4,1729.2 1011.8,1719.6 1016.1,1728.4 1020.5,1738.0 1024.8,1734.1 1029.2,1735.7 1033.6,1734.6 1037.9,1737.7 1042.3,1742.3 1046.6,1744.4 1051.0,1755.4 1055.3,1763.6 1060.8,1759.0 1066.2,1757.3 1070.6,1752.0 1075.0,1749.9 1081.5,1736.7 1086.9,1732.4 1092.4,1727.0 1096.7,1723.8 1101.1,1716.7 1105.5,1725.9 1112.0,1698.9 1117.5,1694.3 1122.9,1685.1 1127.3,1688.1 1131.6,1687.4 1138.2,1669.0 1142.5,1659.4 1146.9,1651.3 1151.2,1644.8 1157.8,1634.4 1162.1,1613.8 1166.5,1597.5 1173.0,1602.3 1180.0,1566.3 1184.0,1560.0 1191.0,1532.3 1195.7,1531.6 1200.4,1531.3 1205.0,1514.2 1209.7,1500.1 1216.7,1489.1 1221.4,1472.0 1226.0,1464.3 1230.7,1460.0 1237.7,1449.5 1242.4,1445.3 1247.0,1444.2 1251.7,1430.7 1258.7,1418.0 1265.7,1425.1 1270.4,1424.7 1275.1,1424.8 1279.2,1422.4 1283.2,1419.3 1287.3,1426.7 1291.4,1432.0 1296.1,1431.2 1300.7,1424.8 1307.8,1438.0 1312.4,1435.8 1317.1,1435.5 1324.1,1449.6 1328.8,1450.1 1333.4,1454.0 1340.4,1450.8 1347.4,1471.8 1354.5,1462.6 1359.1,1482.0 1366.1,1480.9 1373.1,1482.2 1380.1,1502.0 1387.1,1507.8 1394.1,1523.7 1401.1,1528.0 1408.2,1545.1 1415.2,1554.1 1422.2,1572.8 1426.8,1575.5 1431.5,1579.2 1436.2,1587.8 1440.8,1594.2 1447.8,1592.1 1453.7,1615.4 1457.8,1605.8 1461.9,1598.3 1468.9,1606.2 1475.9,1619.1 1482.9,1608.5 1487.5,1603.4 1492.2,1600.0 1499.2,1593.4 1506.2,1600.7 1512.0,1584.0 1516.1,1588.4 1520.2,1591.3 1524.9,1573.8 1530.0,1572.6 1532.7,1572.0 1537.8,1568.8 1542.9,1565.6 1550.5,1568.2 1550.5,1547.8 1555.6,1546.5 1560.7,1545.3 1560.7,1538.9 1565.8,1537.6 1570.9,1536.4 1570.9,1527.5 1575.9,1526.8 1581.0,1526.2 1581.0,1519.8 1588.6,1518.6 1591.2,1505.9 1595.6,1505.2 1600.1,1504.6 1600.1,1498.2 1604.5,1496.3 1609.0,1494.4 1609.0,1507.1 1614.1,1505.9 1619.2,1504.6 1619.2,1488.1 1624.2,1487.4 1629.3,1486.8 1629.3,1495.7 1634.4,1498.9 1639.5,1502.0 1639.5,1491.9 1644.6,1497.0 1649.7,1502.0 1649.7,1493.1 1657.3,1499.5 1662.4,1491.9 1667.5,1484.2 1667.5,1497.0 1672.6,1500.8 1677.6,1504.6 1677.6,1499.5 1682.7,1499.5 1687.8,1499.5 1687.8,1508.4 1692.3,1507.1 1696.7,1505.9 1696.7,1514.8 1701.8,1517.3 1706.9,1519.8 1706.9,1528.7 1712.0,1529.4 1717.1,1530.0 1717.1,1524.9 1721.5,1526.2 1725.9,1527.5 1725.9,1547.8 1728.5,1537.6 1736.1,1535.1 1736.1,1547.8 1740.6,1553.5 1745.0,1559.3 1745.0,1545.3 1749.5,1544.6 1753.9,1544.0 1753.9,1568.2 1759.0,1570.1 1764.1,1572.0 1764.1,1582.1 1766.6,1568.2 1774.3,1568.2 1774.3,1591.0 1779.3,1590.4 1784.4,1589.8 1784.4,1593.6 1789.5,1592.3 1794.6,1591.0 1799.0,1589.8 1803.5,1588.5 1803.5,1597.4 1808.6,1600.6 1813.7,1603.7 1813.7,1611.4 1816.2,1605.0 1823.8,1610.1 1823.8,1621.5 1826.4,1611.4 1832.7,1612.6 1837.2,1615.8 1841.6,1619.0 1844.2,1613.9 1848.6,1613.9 1853.1,1613.9 1853.1,1602.5 1858.2,1601.8 1863.2,1601.2 1863.2,1597.4 1869.0,1596.8 1874.7,1596.1 1879.1,1594.8 1883.6,1593.6 1883.6,1578.3 1888.0,1577.1 1892.5,1575.8 1892.5,1555.4 1897.6,1549.1 1900.1,1552.9 1902.7,1558.0" stroke="#006400"/>
<polyline points="538.5,1826.3 543.5,1867.3 549.1,1916.7 552.4,1945.8 555.8,1954.8 558.0,1943.6 560.3,1916.7 563.7,1915.5 574.9,1916.7 597.3,1913.3 615.3,1909.9 624.2,1911.1 633.2,1916.7 642.2,1932.4 651.2,1957.1 657.9,1979.5 664.6,2004.2 673.6,2019.9 682.6,2031.1 691.5,2046.8 700.5,2060.3 711.7,2069.2 723.0,2080.5 731.9,2093.9 740.9,2111.9 749.9,2125.3 758.9,2147.8 767.8,2159.0 776.8,2172.4 788.0,2190.4 799.2,2199.4 810.5,2208.3 821.7,2217.3 832.9,2224.1 844.1,2221.8 855.3,2226.3 866.5,2225.2 877.8,2219.6 889.0,2215.1 900.0,2206.1 909.4,2195.5 919.1,2183.4 928.7,2171.3 938.4,2156.8 948.1,2149.5 957.8,2147.1 967.5,2135.0 977.2,2127.7 986.9,2110.8 996.5,2101.1 1006.2,2091.4 1015.9,2084.1 1025.6,2075.6 1035.3,2069.6 1045.0,2066.0 1054.6,2064.7 1064.3,2064.7 1078.9,2065.2 1088.5,2072.0 1098.2,2081.7 1107.9,2091.4 1117.6,2099.9 1122.4,2110.8 1132.1,2127.7 1141.8,2144.6 1151.5,2171.3 1161.2,2188.2 1170.9,2219.7 1180.6,2246.3 1190.2,2270.6 1199.9,2294.8 1209.6,2316.6 1219.3,2343.2 1229.0,2372.3 1238.7,2391.6 1248.4,2401.3 1258.0,2408.6 1267.7,2411.0 1277.4,2407.4 1290.0,2406.2 1296.1,2399.1 1307.6,2394.5 1321.4,2387.6 1332.9,2376.1 1346.7,2369.2 1355.9,2353.0 1367.4,2336.9 1378.9,2330.0 1388.1,2318.5 1397.3,2302.4 1406.5,2288.6 1418.0,2274.8 1429.5,2258.7 1441.0,2242.6 1450.2,2233.4 1459.4,2219.6 1466.3,2213.9 1475.5,2213.9 1482.4,2217.3 1491.6,2219.6 1500.8,2226.5 1510.0,2232.3 1519.2,2235.7 1521.5,2243.8 1530.7,2247.2 1533.0,2254.1 1539.9,2256.4 1542.2,2263.3 1549.2,2264.5 1551.5,2272.5 1559.5,2274.8 1561.8,2284.0 1569.9,2286.3 1572.2,2296.7 1579.1,2297.8 1581.4,2309.3 1589.4,2310.5 1591.7,2322.0 1599.8,2325.4 1602.1,2331.2 1609.0,2332.3 1609.0,2340.4 1620.5,2342.7 1627.4,2343.8 1629.7,2349.6 1638.9,2353.0 1648.1,2354.2 1660.0,2353.0 1667.5,2348.3 1667.5,2344.9 1676.6,2343.7 1678.9,2340.3 1688.1,2339.1 1688.1,2332.3 1697.2,2331.1 1697.2,2326.5 1706.4,2325.4 1706.4,2317.4 1715.5,2316.2 1725.8,2314.0 1725.8,2305.9 1735.0,2304.8 1735.0,2301.4 1745.3,2300.2 1745.3,2289.9 1754.4,2288.8 1754.4,2281.9 1764.7,2278.5 1764.7,2265.9 1775.0,2264.8 1775.0,2257.9 1784.2,2256.8 1786.5,2246.5 1795.6,2245.3 1795.6,2233.9 1804.8,2232.7 1813.9,2235.0 1813.9,2223.6 1823.1,2222.4 1825.4,2219.0 1834.5,2217.8 1843.7,2217.8 1852.8,2220.1 1862.0,2221.3 1864.3,2225.9 1873.4,2225.9 1873.4,2236.2 1882.6,2237.3 1882.6,2246.5 1891.7,2247.6 1891.7,2260.2 1898.6,2263.6 1902.0,2269.3" stroke="#006400"/>
</g>
<text x="654.6" y="99.0" font-size="71" text-anchor="start" textLength="178.4" lengthAdjust="spacingAndGlyphs">Grid I</text>
<text x="846.0" y="99.0" font-size="71" text-anchor="start" textLength="25.9" lengthAdjust="spacingAndGlyphs">-</text>
<text x="893.0" y="99.0" font-size="71" text-anchor="start" textLength="36.9" lengthAdjust="spacingAndGlyphs" font-style="italic">L</text>
<text x="934.5" y="107.0" font-size="82.0" text-anchor="start" textLength="29.1" lengthAdjust="spacingAndGlyphs">/</text>
<text x="970.6" y="99.0" font-size="71" text-anchor="start" textLength="29.1" lengthAdjust="spacingAndGlyphs" font-style="italic">δ</text>
<text x="1020.4" y="99.0" font-size="71" text-anchor="start" textLength="53.7" lengthAdjust="spacingAndGlyphs">≈</text>
<text x="1092.0" y="99.0" font-size="71" text-anchor="start" textLength="33.9" lengthAdjust="spacingAndGlyphs">6</text>
<text x="654.6" y="168.7" font-size="71" text-anchor="start" textLength="201.0" lengthAdjust="spacingAndGlyphs">Grid II</text>
<text x="869.5" y="168.7" font-size="71" text-anchor="start" textLength="25.0" lengthAdjust="spacingAndGlyphs">-</text>
<text x="915.0" y="168.7" font-size="71" text-anchor="start" textLength="37.9" lengthAdjust="spacingAndGlyphs" font-style="italic">L</text>
<text x="958.0" y="176.7" font-size="82.0" text-anchor="start" textLength="28.5" lengthAdjust="spacingAndGlyphs">/</text>
<text x="994.3" y="168.7" font-size="71" text-anchor="start" textLength="29.1" lengthAdjust="spacingAndGlyphs" font-style="italic">δ</text>
<text x="1044.2" y="168.7" font-size="71" text-anchor="start" textLength="52.9" lengthAdjust="spacingAndGlyphs">≈</text>
<text x="1114.6" y="168.7" font-size="71" text-anchor="start" textLength="68.2" lengthAdjust="spacingAndGlyphs">10</text>
<text x="654.6" y="241.2" font-size="71" text-anchor="start" textLength="222.9" lengthAdjust="spacingAndGlyphs">Grid III</text>
<text x="891.2" y="241.2" font-size="71" text-anchor="start" textLength="25.0" lengthAdjust="spacingAndGlyphs">-</text>
<text x="937.0" y="241.2" font-size="71" text-anchor="start" textLength="36.9" lengthAdjust="spacingAndGlyphs" font-style="italic">L</text>
<text x="980.0" y="249.2" font-size="82.0" text-anchor="start" textLength="28.5" lengthAdjust="spacingAndGlyphs">/</text>
<text x="1016.2" y="241.2" font-size="71" text-anchor="start" textLength="27.8" lengthAdjust="spacingAndGlyphs" font-style="italic">δ</text>
<text x="1065.0" y="241.2" font-size="71" text-anchor="start" textLength="54.5" lengthAdjust="spacingAndGlyphs">≈</text>
<text x="1138.3" y="241.2" font-size="71" text-anchor="start" textLength="65.1" lengthAdjust="spacingAndGlyphs">14</text>
<text x="654.6" y="320.6" font-size="71" text-anchor="start" textLength="223.1" lengthAdjust="spacingAndGlyphs">Grid IV</text>
<text x="894.4" y="320.6" font-size="71" text-anchor="start" textLength="26.2" lengthAdjust="spacingAndGlyphs">-</text>
<text x="941.0" y="320.6" font-size="71" text-anchor="start" textLength="34.9" lengthAdjust="spacingAndGlyphs" font-style="italic">L</text>
<text x="983.0" y="328.6" font-size="82.0" text-anchor="start" textLength="29.0" lengthAdjust="spacingAndGlyphs">/</text>
<text x="1020.4" y="320.6" font-size="71" text-anchor="start" textLength="25.7" lengthAdjust="spacingAndGlyphs" font-style="italic">δ</text>
<text x="1069.0" y="320.6" font-size="71" text-anchor="start" textLength="53.7" lengthAdjust="spacingAndGlyphs">≈</text>
<text x="1139.4" y="320.6" font-size="71" text-anchor="start" textLength="119.3" lengthAdjust="spacingAndGlyphs">18.5</text>
<text x="548.3" y="1287.5" font-size="66" text-anchor="middle" textLength="32.0" lengthAdjust="spacingAndGlyphs">0</text>
<text x="741.5" y="1287.5" font-size="66" text-anchor="middle" textLength="64.0" lengthAdjust="spacingAndGlyphs">20</text>
<text x="934.6" y="1287.5" font-size="66" text-anchor="middle" textLength="64.0" lengthAdjust="spacingAndGlyphs">40</text>
<text x="1127.8" y="1287.5" font-size="66" text-anchor="middle" textLength="64.0" lengthAdjust="spacingAndGlyphs">60</text>
<text x="1320.9" y="1287.5" font-size="66" text-anchor="middle" textLength="64.0" lengthAdjust="spacingAndGlyphs">80</text>
<text x="1514.1" y="1287.5" font-size="66" text-anchor="middle" textLength="96.0" lengthAdjust="spacingAndGlyphs">100</text>
<text x="1707.3" y="1287.5" font-size="66" text-anchor="middle" textLength="96.0" lengthAdjust="spacingAndGlyphs">120</text>
<text x="1900.4" y="1287.5" font-size="66" text-anchor="middle" textLength="96.0" lengthAdjust="spacingAndGlyphs">140</text>
<text x="523.5" y="1225.2" font-size="66" text-anchor="end" textLength="112.0" lengthAdjust="spacingAndGlyphs">0.00</text>
<text x="523.5" y="1048.2" font-size="66" text-anchor="end" textLength="112.0" lengthAdjust="spacingAndGlyphs">0.05</text>
<text x="523.5" y="871.2" font-size="66" text-anchor="end" textLength="112.0" lengthAdjust="spacingAndGlyphs">0.10</text>
<text x="523.5" y="694.2" font-size="66" text-anchor="end" textLength="112.0" lengthAdjust="spacingAndGlyphs">0.15</text>
<text x="523.5" y="517.2" font-size="66" text-anchor="end" textLength="112.0" lengthAdjust="spacingAndGlyphs">0.20</text>
<text x="538.5" y="2538.0" font-size="66" text-anchor="middle" textLength="32.0" lengthAdjust="spacingAndGlyphs">0</text>
<text x="733.2" y="2538.0" font-size="66" text-anchor="middle" textLength="64.0" lengthAdjust="spacingAndGlyphs">20</text>
<text x="928.0" y="2538.0" font-size="66" text-anchor="middle" textLength="64.0" lengthAdjust="spacingAndGlyphs">40</text>
<text x="1122.7" y="2538.0" font-size="66" text-anchor="middle" textLength="64.0" lengthAdjust="spacingAndGlyphs">60</text>
<text x="1317.4" y="2538.0" font-size="66" text-anchor="middle" textLength="64.0" lengthAdjust="spacingAndGlyphs">80</text>
<text x="1512.2" y="2538.0" font-size="66" text-anchor="middle" textLength="96.0" lengthAdjust="spacingAndGlyphs">100</text>
<text x="1706.9" y="2538.0" font-size="66" text-anchor="middle" textLength="96.0" lengthAdjust="spacingAndGlyphs">120</text>
<text x="1901.6" y="2538.0" font-size="66" text-anchor="middle" textLength="96.0" lengthAdjust="spacingAndGlyphs">140</text>
<text x="514.5" y="2312.7" font-size="66" text-anchor="end" textLength="85.0" lengthAdjust="spacingAndGlyphs">-20</text>
<text x="514.5" y="2079.7" font-size="66" text-anchor="end" textLength="85.0" lengthAdjust="spacingAndGlyphs">-10</text>
<text x="514.5" y="1846.6" font-size="66" text-anchor="end" textLength="32.0" lengthAdjust="spacingAndGlyphs">0</text>
<text x="514.5" y="1613.6" font-size="66" text-anchor="end" textLength="64.0" lengthAdjust="spacingAndGlyphs">10</text>
<text x="514.5" y="1380.6" font-size="66" text-anchor="end" textLength="64.0" lengthAdjust="spacingAndGlyphs">20</text>
<text x="809.4" y="501.2" font-size="71" text-anchor="start" textLength="287.5" lengthAdjust="spacingAndGlyphs">West vent</text>
<text x="1182.7" y="1092.7" font-size="71" text-anchor="start" textLength="706.9" lengthAdjust="spacingAndGlyphs">Forced extraction grilles</text>
<text x="1151.2" y="2683.4" font-size="71" text-anchor="start" textLength="234.6" lengthAdjust="spacingAndGlyphs">Time [s]</text>
<text x="831.5" y="1506.2" font-size="71" text-anchor="start" textLength="287.1" lengthAdjust="spacingAndGlyphs">West vent</text>
<text x="1484.0" y="1891.8" font-size="71" text-anchor="start" textLength="109.6" lengthAdjust="spacingAndGlyphs">Net</text>
<text x="1569.6" y="2145.3" font-size="71" text-anchor="start" textLength="272.1" lengthAdjust="spacingAndGlyphs">East vent</text>
<text x="14.6" y="661.0" font-size="65.32000000000001" text-anchor="start" textLength="75.4" lengthAdjust="spacingAndGlyphs" font-weight="bold">(a)</text>
<text x="14.6" y="2030.0" font-size="65.32000000000001" text-anchor="start" textLength="83.6" lengthAdjust="spacingAndGlyphs" font-weight="bold">(b)</text>
<text transform="translate(345.4,1183.4) rotate(-90)" font-size="71" textLength="103.0" lengthAdjust="spacingAndGlyphs">CO</text>
<text transform="translate(345.4,1041.6) rotate(-90)" font-size="71" textLength="158.6" lengthAdjust="spacingAndGlyphs">mass</text>
<text transform="translate(345.4,876.5) rotate(-90)" font-size="71" textLength="130.3" lengthAdjust="spacingAndGlyphs">flow</text>
<text transform="translate(345.4,719.6) rotate(-90)" font-size="71" textLength="106.0" lengthAdjust="spacingAndGlyphs">rate</text>
<text transform="translate(345.4,592.9) rotate(-90)" font-size="71" textLength="93.9" lengthAdjust="spacingAndGlyphs">[kg</text>
<text transform="translate(345.4,489.6) rotate(-90)" font-size="71" textLength="30.0" lengthAdjust="spacingAndGlyphs">s</text>
<text transform="translate(319.4,458.2) rotate(-90)" font-size="49.7" textLength="65.8" lengthAdjust="spacingAndGlyphs">−1</text>
<text transform="translate(345.4,394.5) rotate(-90)" font-size="71" textLength="22.2" lengthAdjust="spacingAndGlyphs">]</text>
<text transform="translate(355.9,1087.2) rotate(-90)" font-size="49.7" textLength="27.0" lengthAdjust="spacingAndGlyphs">2</text>
<text transform="translate(365.4,2226.8) rotate(-90)" font-size="71" textLength="149.9" lengthAdjust="spacingAndGlyphs">Mass</text>
<text transform="translate(365.4,2057.1) rotate(-90)" font-size="71" textLength="130.3" lengthAdjust="spacingAndGlyphs">flow</text>
<text transform="translate(365.4,1900.2) rotate(-90)" font-size="71" textLength="106.0" lengthAdjust="spacingAndGlyphs">rate</text>
<text transform="translate(365.4,1772.5) rotate(-90)" font-size="71" textLength="92.9" lengthAdjust="spacingAndGlyphs">[kg</text>
<text transform="translate(365.4,1670.2) rotate(-90)" font-size="71" textLength="30.0" lengthAdjust="spacingAndGlyphs">s</text>
<text transform="translate(339.4,1638.8) rotate(-90)" font-size="49.7" textLength="65.7" lengthAdjust="spacingAndGlyphs">−1</text>
<text transform="translate(365.4,1574.1) rotate(-90)" font-size="71" textLength="20.8" lengthAdjust="spacingAndGlyphs">]</text>
</svg>
</body></html>
